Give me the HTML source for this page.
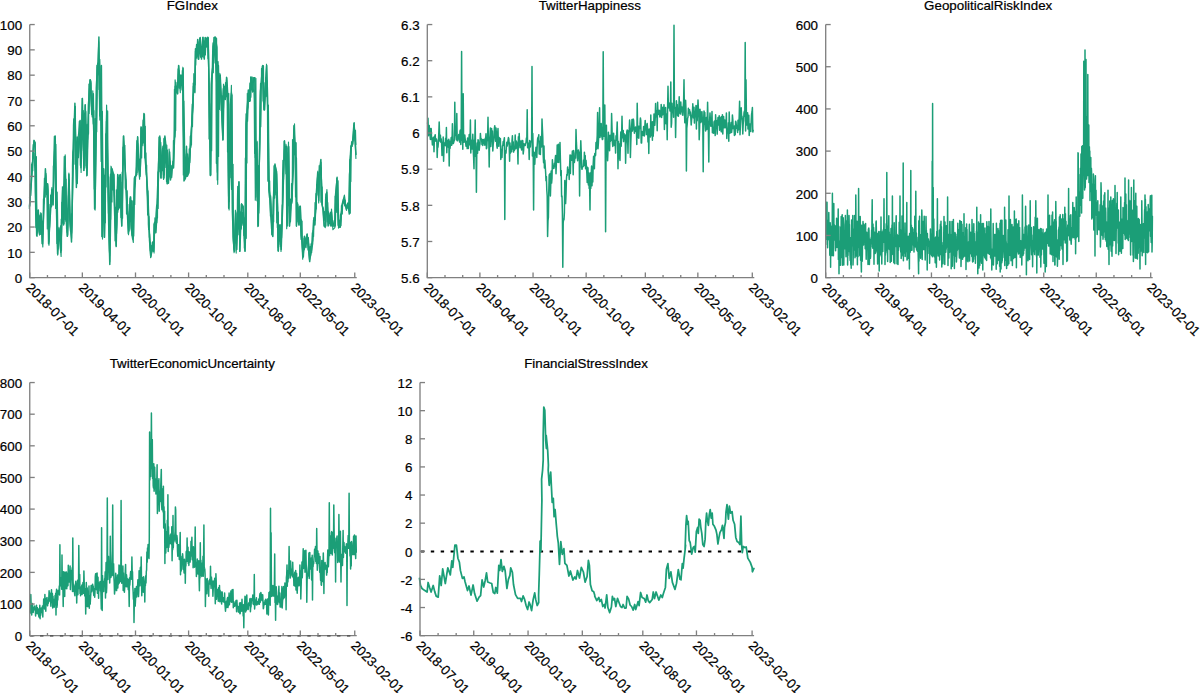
<!DOCTYPE html><html><head><meta charset="utf-8"><title>chart</title>
<style>html,body{margin:0;padding:0;background:#fff;}body{width:1200px;height:693px;overflow:hidden;}svg{display:block;}text{font-family:"Liberation Sans",sans-serif;font-size:13.33px;fill:#000;stroke:#000;stroke-width:0.22px;}</style></head><body>
<svg width="1200" height="693" viewBox="0 0 1200 693">
<rect width="1200" height="693" fill="#fff"/>
<g><polyline points="29.5,206.3 31.8,176.3 34.0,140.7 35.1,142.6 37.0,236.3 38.3,210.0 39.6,234.4 41.1,213.8 42.6,243.8 43.9,206.3 45.4,168.8 46.8,193.2 47.5,183.8 48.6,243.8 50.5,211.9 52.0,189.4 53.0,204.4 55.2,136.0 56.5,211.9 57.6,254.1 59.0,228.8 60.8,252.3 62.7,189.4 63.6,225.0 65.0,156.6 66.5,211.9 67.4,236.3 68.9,174.4 70.2,221.3 71.5,241.9 73.0,161.3 74.9,103.2 76.4,187.5 77.2,136.9 78.3,157.6 80.0,121.0 80.9,167.8 82.4,98.5 83.9,170.6 85.2,105.0 87.1,175.3 88.4,105.0 90.3,79.7 91.8,114.4 93.3,93.8 94.6,209.1 97.0,65.6 97.8,75.0 98.9,37.1 100.0,120.1 101.4,65.6 102.5,237.2 103.6,168.8 104.5,237.2 106.8,110.7 108.7,225.0 109.8,264.4 111.5,168.8 113.4,174.4 114.7,215.7 116.2,246.6 117.7,174.4 119.0,208.2 120.3,174.4 121.8,226.0 123.7,136.0 124.6,153.8 125.6,178.1 128.4,233.5 130.3,196.9 131.2,225.0 132.7,239.1 134.6,178.1 136.8,174.4 137.7,136.9 138.6,161.3 140.1,176.3 141.4,127.6 142.8,142.6 143.9,113.5 145.2,159.4 146.5,174.4 148.0,196.9 149.5,240.1 150.8,256.9 152.7,241.9 153.6,251.3 154.6,222.2 155.9,232.6 157.4,206.3 158.9,165.0 159.8,136.0 160.8,178.1 162.1,155.6 163.0,146.3 164.0,178.1 164.9,136.0 166.4,150.1 167.1,183.8 168.3,182.8 169.6,152.0 170.5,180.0 171.5,166.9 173.3,167.8 174.7,135.1 175.2,86.3 176.5,86.3 177.7,93.8 178.6,65.6 179.9,88.2 180.8,75.0 182.2,90.0 183.1,68.5 183.7,123.8 184.0,181.0 185.5,178.1 186.5,146.3 187.4,176.3 188.9,172.5 190.2,150.0 191.2,135.1 192.7,105.0 193.4,86.3 194.5,91.9 195.5,48.8 196.8,58.1 197.7,39.4 198.7,59.1 200.2,37.5 201.5,59.1 202.8,37.5 204.3,59.1 205.2,37.5 206.5,46.9 208.0,37.5 209.0,78.8 210.3,175.3 211.4,84.4 212.7,67.5 214.1,37.5 215.6,37.5 216.5,47.8 217.4,180.0 218.4,65.6 219.3,105.0 220.2,75.0 221.6,103.2 223.1,139.8 224.0,86.3 225.3,99.4 226.8,77.8 227.7,93.8 228.7,208.2 230.2,105.0 231.5,92.9 232.4,211.9 233.4,240.1 234.3,251.3 235.8,211.9 236.8,249.4 238.9,181.9 239.9,251.3 241.4,204.4 242.7,206.3 243.6,221.3 245.1,251.3 245.9,215.7 246.4,125.7 248.3,90.0 249.6,101.3 251.1,76.9 252.6,91.9 253.6,77.8 254.9,77.8 255.8,196.9 256.8,142.6 258.3,226.0 259.6,142.6 260.5,91.9 261.5,78.8 262.8,65.6 263.7,99.4 264.6,109.7 265.8,84.4 266.7,65.6 267.6,97.5 269.0,189.4 270.3,196.9 271.8,225.0 272.7,236.3 273.6,204.4 275.0,164.1 276.5,174.4 277.4,206.3 278.3,251.3 279.7,225.0 281.2,249.4 282.7,204.4 284.0,161.3 284.5,140.7 285.8,157.6 286.4,146.3 287.2,226.0 288.3,146.3 289.6,226.0 290.5,206.3 292.0,200.7 293.0,168.8 293.9,125.7 294.8,152.0 295.8,142.6 296.5,226.0 297.7,204.4 299.0,225.0 300.3,206.3 301.8,238.2 303.3,256.9 304.6,236.3 305.9,247.6 307.0,234.4 308.4,247.6 309.7,261.6 311.2,247.6 312.7,240.1 314.0,217.5 314.9,225.0 316.4,193.2 317.7,172.5 318.7,200.7 319.6,170.6 320.9,159.4 321.9,204.4 323.4,210.0 324.3,226.0 325.8,226.0 326.7,192.2 328.1,226.0 329.6,215.7 330.9,226.0 331.4,211.9 332.7,226.0 335.2,226.0 335.9,195.0 337.1,177.2 338.2,225.3 340.2,227.3 342.2,205.1 344.3,199.0 346.3,209.1 347.9,203.0 349.3,214.1 350.3,160.6 351.3,146.5 352.7,140.4 354.0,123.2 355.0,136.4 356.0,154.5" fill="none" stroke="#1b9e77" stroke-width="1.5" stroke-linejoin="round" stroke-linecap="round"/>
<polyline points="29.3,208.4 31.2,179.2 34.0,140.1 35.1,143.2 36.5,235.4 37.8,210.4 39.5,235.0 40.8,212.7 42.8,246.9 43.8,205.2 46.0,173.5 46.5,194.6 47.1,185.4 49.0,245.3 50.1,208.8 51.9,187.6 53.0,205.2 54.9,136.3 56.7,210.0 57.7,255.1 58.9,227.4 61.1,256.5 62.4,186.7 64.1,223.7 65.2,154.9 66.0,218.7 67.3,236.4 68.9,173.0 69.7,219.2 71.6,238.2 73.5,159.8 75.0,106.7 76.5,182.9 77.7,138.2 78.3,157.1 80.2,120.2 81.1,172.5 82.2,98.3 83.8,170.4 85.2,104.6 86.7,176.0 88.7,105.6 89.8,79.8 92.2,116.9 92.8,90.8 95.1,210.1 97.4,67.0 97.7,73.5 98.7,41.8 99.6,115.9 101.0,65.9 102.5,239.1 103.7,168.7 104.5,237.5 106.6,105.0 108.9,222.5 109.8,261.7 111.0,166.2 113.8,175.3 115.0,210.7 116.1,245.7 117.8,175.1 118.5,209.7 119.9,175.1 121.6,226.0 123.3,136.0 124.1,153.5 126.0,178.6 128.5,234.6 130.1,198.4 131.0,228.5 133.3,242.5 134.5,177.1 136.3,174.5 137.5,136.5 138.2,165.9 139.6,179.2 141.0,126.6 142.8,145.6 144.5,114.0 145.6,158.7 146.3,172.6 147.6,197.3 149.8,237.0 150.6,257.7 153.3,246.4 154.1,252.9 154.9,217.9 155.6,230.2 156.8,206.0 158.3,164.7 160.1,137.9 161.3,172.6 162.7,157.5 163.6,145.2 163.6,179.5 164.5,137.0 166.9,153.4 167.6,180.2 168.6,183.3 169.1,149.0 170.9,175.4 171.8,165.3 173.7,168.0 174.5,137.2 175.1,79.9 176.4,90.1 177.3,92.5 178.1,68.8 180.3,92.6 180.4,78.3 182.3,83.8 182.9,67.2 183.1,123.4 184.6,179.2 186.1,175.7 186.4,149.6 187.1,172.9 188.6,172.0 190.3,151.8 190.9,133.9 193.2,105.7 193.2,83.1 195.0,92.8 195.4,51.3 196.8,56.7 197.8,42.1 198.3,59.4 199.6,38.0 201.4,57.6 203.1,37.0 204.3,58.3 205.3,37.8 206.6,45.7 207.7,37.0 209.0,83.0 210.4,175.7 211.4,78.9 212.9,64.5 214.3,37.4 215.5,37.0 217.0,47.2 217.7,184.3 218.1,61.5 219.4,109.5 219.8,73.4 221.1,102.3 222.7,140.1 223.5,84.2 225.8,95.6 226.4,77.1 227.3,90.2 229.1,209.9 230.7,104.7 231.4,85.3 232.8,212.5 233.0,237.3 234.1,252.6 235.4,210.2 236.2,253.1 239.0,181.5 239.7,251.5 241.5,203.5 243.3,206.2 244.0,222.5 244.8,251.1 245.3,216.0 246.0,123.7 248.2,94.0 249.3,98.9 250.7,79.7 252.9,90.3 253.1,81.4 254.8,79.2 255.3,200.2 257.1,141.2 257.8,226.6 260.0,141.8 260.5,90.2 262.0,81.5 262.5,67.8 263.4,101.6 264.2,110.2 265.4,85.1 266.5,64.2 267.4,101.5 269.0,190.4 269.7,199.0 271.5,229.1 272.8,236.7 273.3,198.6 274.5,165.0 276.8,171.7 277.8,207.5 278.2,247.5 280.2,224.9 281.0,251.4 282.8,201.0 283.9,160.8 284.1,141.4 285.3,157.5 286.0,144.4 286.7,228.7 288.5,142.1 289.3,226.1 290.5,208.4 291.6,198.8 293.5,169.4 294.5,123.9 295.4,151.4 295.6,142.5 296.4,226.1 297.6,202.7 299.0,225.0 299.7,206.2 301.7,239.3 302.7,259.1 304.3,236.6 306.0,243.5 307.2,233.7 308.6,249.4 309.5,259.9 311.8,249.9 312.8,243.3 313.4,220.2 315.1,220.5 316.7,193.7 317.8,171.2 318.7,203.0 320.0,166.7 321.0,162.3 322.1,202.0 323.0,211.3 324.1,226.2 325.3,227.6 326.9,189.5 328.2,224.8 329.0,213.0 331.2,226.0 331.5,209.0 332.9,229.7 334.9,227.6 335.4,194.6 336.7,181.2 338.5,228.1 340.1,226.8 342.2,203.3 344.4,195.1 346.5,210.3 347.6,203.7 349.6,213.1 349.7,163.7 350.8,146.0 353.0,144.1 354.2,122.5 354.9,139.3 355.9,158.4" fill="none" stroke="#1b9e77" stroke-width="1.15" stroke-linejoin="round" stroke-linecap="round"/>
<polyline points="29.5,197.0 29.8,206.1 30.2,184.0 30.5,195.9 30.8,195.4 31.2,183.2 31.5,164.4 31.8,176.2 32.1,162.9 32.5,170.3 32.8,170.7 33.1,144.7 33.5,158.3 33.8,156.1 34.1,153.1 34.5,162.8 34.8,171.2 35.1,191.6 35.4,201.3 35.8,227.6 36.1,187.2 36.4,156.5 36.8,212.6 37.1,214.2 37.4,228.0 37.8,232.9 38.1,229.1 38.4,220.5 38.7,214.3 39.1,216.3 39.4,231.4 39.7,225.1 40.1,215.6 40.4,222.9 40.7,234.4 41.1,231.7 41.4,220.1 41.7,225.5 42.0,243.7 42.4,221.2 42.7,234.2 43.0,227.9 43.4,198.9 43.7,203.7 44.0,192.4 44.4,178.2 44.7,185.3 45.0,193.2 45.3,197.1 45.7,175.5 46.0,185.9 46.3,191.0 46.7,185.5 47.0,204.1 47.3,228.9 47.7,183.9 48.0,186.2 48.3,190.6 48.6,226.0 49.0,242.0 49.3,228.5 49.6,226.8 50.0,204.4 50.3,211.2 50.6,195.1 51.0,205.6 51.3,204.0 51.6,206.9 51.9,203.2 52.3,196.3 52.6,197.7 52.9,200.9 53.3,166.1 53.6,165.2 53.9,153.7 54.3,136.4 54.6,139.6 54.9,168.7 55.2,139.0 55.6,208.4 55.9,144.2 56.2,191.9 56.6,197.8 56.9,243.4 57.2,192.1 57.6,214.6 57.9,233.8 58.2,249.0 58.5,230.6 58.9,231.6 59.2,239.2 59.5,232.0 59.9,236.2 60.2,238.5 60.5,225.9 60.9,248.0 61.2,219.0 61.5,250.5 61.8,202.2 62.2,211.8 62.5,209.1 62.8,223.1 63.2,199.7 63.5,188.4 63.8,182.3 64.2,156.6 64.5,206.4 64.8,219.5 65.1,194.2 65.5,177.7 65.8,221.2 66.1,179.2 66.5,228.7 66.8,208.0 67.1,232.3 67.5,225.3 67.8,234.9 68.1,224.4 68.4,197.0 68.8,191.1 69.1,179.6 69.4,185.2 69.8,209.7 70.1,226.0 70.4,231.0 70.8,226.3 71.1,224.9 71.4,213.8 71.7,232.9 72.1,224.4 72.4,166.0 72.7,152.1 73.1,149.1 73.4,125.5 73.7,118.8 74.1,129.4 74.4,129.5 74.7,123.9 75.0,164.2 75.4,106.4 75.7,162.3 76.0,169.0 76.4,169.1 76.7,144.7 77.0,141.2 77.4,183.6 77.7,166.9 78.0,148.4 78.3,136.1 78.7,132.0 79.0,126.4 79.3,121.3 79.7,131.1 80.0,136.0 80.3,165.2 80.7,162.7 81.0,157.8 81.3,140.8 81.6,150.6 82.0,142.5 82.3,115.0 82.6,111.4 83.0,139.7 83.3,110.5 83.6,122.5 84.0,142.1 84.3,159.5 84.6,113.0 84.9,168.1 85.3,129.3 85.6,111.1 85.9,111.7 86.3,166.1 86.6,157.0 86.9,126.8 87.3,124.2 87.6,139.5 87.9,134.8 88.2,128.1 88.6,133.9 88.9,84.0 89.2,113.5 89.6,90.9 89.9,83.8 90.2,89.9 90.6,83.4 90.9,80.9 91.2,83.0 91.5,106.5 91.9,99.9 92.2,98.3 92.5,99.0 92.9,117.0 93.2,123.9 93.5,115.4 93.9,110.5 94.2,189.1 94.5,161.9 94.8,207.7 95.2,118.6 95.5,189.8 95.8,167.6 96.2,87.7 96.5,80.5 96.8,131.7 97.2,81.6 97.5,64.2 97.8,63.1 98.1,71.1 98.5,73.0 98.8,64.6 99.1,89.6 99.5,73.1 99.8,59.3 100.1,68.7 100.5,98.7 100.8,138.5 101.1,161.6 101.4,83.0 101.8,236.4 102.1,173.9 102.4,111.3 102.8,157.2 103.1,177.6 103.4,180.0 103.8,174.7 104.1,210.6 104.4,202.2 104.7,175.3 105.1,210.5 105.4,222.8 105.7,133.7 106.1,186.9 106.4,121.2 106.7,121.5 107.1,157.0 107.4,117.2 107.7,111.0 108.0,175.1 108.4,213.3 108.7,176.9 109.0,221.7 109.4,251.3 109.7,255.3 110.0,196.6 110.4,174.4 110.7,219.2 111.0,188.8 111.3,173.3 111.7,176.7 112.0,202.0 112.3,168.8 112.7,170.6 113.0,190.0 113.3,176.0 113.7,181.8 114.0,174.1 114.3,194.9 114.6,208.8 115.0,240.8 115.3,207.3 115.6,215.1 116.0,239.1 116.3,189.8 116.6,233.4 117.0,224.2 117.3,209.3 117.6,179.2 117.9,212.3 118.3,191.0 118.6,177.3 118.9,182.2 119.3,175.3 119.6,207.5 119.9,177.5 120.3,205.1 120.6,182.1 120.9,217.4 121.2,204.5 121.6,219.2 121.9,178.0 122.2,172.1 122.6,218.2 122.9,147.2 123.2,165.0 123.6,148.7 123.9,158.0 124.2,154.9 124.5,152.2 124.9,145.2 125.2,187.5 125.5,189.4 125.9,179.7 126.2,194.2 126.5,214.1 126.9,213.1 127.2,190.7 127.5,207.9 127.8,204.3 128.2,217.2 128.5,222.1 128.8,225.9 129.2,230.9 129.5,210.6 129.8,213.4 130.2,217.5 130.5,221.6 130.8,196.9 131.1,204.4 131.5,200.5 131.8,232.9 132.1,235.4 132.5,225.2 132.8,200.9 133.1,232.2 133.5,205.7 133.8,236.0 134.1,212.3 134.4,177.6 134.8,204.5 135.1,190.0 135.4,184.0 135.8,173.5 136.1,166.9 136.4,154.0 136.8,140.7 137.1,172.4 137.4,155.8 137.7,143.3 138.1,148.9 138.4,164.9 138.7,168.3 139.1,158.9 139.4,169.5 139.7,166.2 140.1,159.3 140.4,168.5 140.7,161.5 141.0,128.0 141.4,144.5 141.7,157.9 142.0,138.6 142.4,142.5 142.7,130.2 143.0,120.2 143.4,139.8 143.7,143.0 144.0,128.0 144.3,136.1 144.7,157.9 145.0,153.7 145.3,126.3 145.7,168.1 146.0,152.7 146.3,174.7 146.7,165.1 147.0,193.6 147.3,200.8 147.6,215.1 148.0,190.9 148.3,224.3 148.6,229.5 149.0,216.5 149.3,237.2 149.6,233.7 150.0,243.2 150.3,250.7 150.6,242.0 150.9,251.8 151.3,254.3 151.6,246.6 151.9,245.5 152.3,247.1 152.6,251.0 152.9,251.0 153.3,244.7 153.6,248.0 153.9,223.8 154.2,224.6 154.6,232.5 154.9,233.4 155.2,228.3 155.6,223.4 155.9,217.0 156.2,210.3 156.6,205.1 156.9,222.7 157.2,217.7 157.5,218.1 157.9,171.8 158.2,208.5 158.5,160.4 158.9,137.0 159.2,167.6 159.5,162.8 159.9,171.6 160.2,161.3 160.5,156.7 160.8,142.3 161.2,150.4 161.5,158.4 161.8,177.9 162.2,155.7 162.5,164.1 162.8,170.6 163.2,159.6 163.5,174.9 163.8,138.5 164.1,175.0 164.5,161.9 164.8,146.2 165.1,151.0 165.5,159.7 165.8,167.5 166.1,150.5 166.5,181.7 166.8,145.0 167.1,160.1 167.4,149.9 167.8,182.8 168.1,174.9 168.4,165.3 168.8,178.1 169.1,174.5 169.4,153.3 169.8,176.7 170.1,161.0 170.4,164.0 170.7,176.6 171.1,171.0 171.4,175.9 171.7,177.8 172.1,173.6 172.4,169.3 172.7,161.1 173.1,164.1 173.4,140.6 173.7,144.2 174.0,141.3 174.4,89.3 174.7,90.3 175.0,137.0 175.4,130.0 175.7,130.7 176.0,87.4 176.4,90.6 176.7,92.1 177.0,82.3 177.3,93.7 177.7,87.3 178.0,87.9 178.3,88.0 178.7,65.6 179.0,69.7 179.3,70.4 179.7,82.9 180.0,84.6 180.3,87.3 180.6,79.5 181.0,77.7 181.3,79.9 181.6,75.1 182.0,83.7 182.3,70.6 182.6,71.8 183.0,123.5 183.3,175.0 183.6,159.0 183.9,101.0 184.3,122.4 184.6,140.0 184.9,170.1 185.3,157.3 185.6,177.8 185.9,158.2 186.3,153.9 186.6,176.5 186.9,169.3 187.2,154.2 187.6,153.8 187.9,158.7 188.2,165.5 188.6,173.8 188.9,163.4 189.2,148.9 189.6,159.8 189.9,162.5 190.2,136.7 190.5,135.7 190.9,147.2 191.2,137.8 191.5,144.9 191.9,115.6 192.2,104.2 192.5,126.7 192.9,104.6 193.2,94.1 193.5,96.0 193.8,73.7 194.2,91.0 194.5,84.8 194.8,77.1 195.2,84.8 195.5,60.5 195.8,65.1 196.2,48.9 196.5,44.4 196.8,56.0 197.1,46.5 197.5,47.2 197.8,40.7 198.1,45.7 198.5,54.0 198.8,46.2 199.1,53.7 199.5,41.0 199.8,52.5 200.1,41.8 200.4,56.0 200.8,57.4 201.1,49.2 201.4,57.2 201.8,46.9 202.1,51.7 202.4,56.3 202.8,54.9 203.1,57.2 203.4,48.1 203.7,53.9 204.1,40.9 204.4,40.9 204.7,41.2 205.1,46.4 205.4,54.9 205.7,48.2 206.1,40.4 206.4,37.9 206.7,40.5 207.0,46.5 207.4,44.1 207.7,45.2 208.0,58.7 208.4,37.9 208.7,58.2 209.0,138.9 209.4,135.2 209.7,121.2 210.0,137.2 210.3,138.0 210.7,129.6 211.0,175.1 211.3,103.9 211.7,150.7 212.0,107.1 212.3,65.4 212.7,46.3 213.0,42.8 213.3,72.8 213.6,57.0 214.0,62.9 214.3,56.4 214.6,44.9 215.0,41.1 215.3,40.6 215.6,63.9 216.0,82.1 216.3,163.3 216.6,38.4 216.9,161.1 217.3,172.3 217.6,73.2 217.9,153.2 218.3,124.9 218.6,156.4 218.9,80.9 219.3,101.8 219.6,93.1 219.9,93.5 220.2,75.3 220.6,86.5 220.9,96.2 221.2,110.4 221.6,96.4 221.9,95.7 222.2,115.3 222.6,135.3 222.9,93.9 223.2,88.5 223.5,108.5 223.9,98.0 224.2,89.0 224.5,86.6 224.9,93.3 225.2,96.5 225.5,82.5 225.9,94.3 226.2,96.7 226.5,84.2 226.8,89.2 227.2,102.4 227.5,151.9 227.8,93.5 228.2,176.1 228.5,196.4 228.8,93.4 229.2,201.6 229.5,186.7 229.8,169.9 230.1,177.8 230.5,109.5 230.8,100.0 231.1,155.6 231.5,189.5 231.8,188.9 232.1,94.9 232.5,210.3 232.8,208.3 233.1,164.3 233.4,218.9 233.8,241.0 234.1,249.2 234.4,249.2 234.8,251.3 235.1,244.6 235.4,240.4 235.8,213.4 236.1,242.8 236.4,233.0 236.7,235.4 237.1,236.2 237.4,200.3 237.7,186.3 238.1,234.8 238.4,224.3 238.7,212.3 239.1,228.9 239.4,222.9 239.7,241.8 240.0,216.8 240.4,211.8 240.7,227.0 241.0,224.1 241.4,228.9 241.7,212.9 242.0,212.5 242.4,212.9 242.7,223.6 243.0,225.3 243.3,210.6 243.7,235.5 244.0,217.7 244.3,247.9 244.7,224.8 245.0,220.6 245.3,158.3 245.7,157.0 246.0,113.8 246.3,238.3 246.6,126.8 247.0,163.0 247.3,93.4 247.6,121.2 248.0,110.2 248.3,107.3 248.6,92.0 249.0,90.3 249.3,97.9 249.6,97.4 249.9,83.0 250.3,100.9 250.6,77.0 250.9,97.2 251.3,84.1 251.6,90.0 251.9,84.3 252.3,77.1 252.6,90.5 252.9,84.3 253.2,87.6 253.6,91.5 253.9,90.1 254.2,99.8 254.6,153.4 254.9,136.9 255.2,157.5 255.6,89.6 255.9,78.4 256.2,139.5 256.5,148.7 256.9,200.8 257.2,173.5 257.5,160.1 257.9,212.2 258.2,225.0 258.5,165.5 258.9,213.1 259.2,203.0 259.5,153.5 259.8,133.5 260.2,96.5 260.5,83.4 260.8,126.7 261.2,107.6 261.5,68.7 261.8,75.1 262.2,66.1 262.5,66.7 262.8,65.8 263.1,101.0 263.5,65.7 263.8,109.7 264.1,109.5 264.5,91.5 264.8,96.0 265.1,82.7 265.5,89.5 265.8,77.6 266.1,96.6 266.4,79.8 266.8,95.0 267.1,80.7 267.4,102.1 267.8,180.3 268.1,181.5 268.4,105.1 268.8,144.5 269.1,192.5 269.4,197.6 269.7,180.9 270.1,205.0 270.4,216.1 270.7,195.8 271.1,203.8 271.4,212.8 271.7,234.8 272.1,226.0 272.4,215.0 272.7,222.0 273.0,216.2 273.4,196.8 273.7,221.7 274.0,165.9 274.4,179.5 274.7,198.1 275.0,184.4 275.4,168.1 275.7,167.6 276.0,195.0 276.3,191.7 276.7,222.8 277.0,201.4 277.3,227.4 277.7,226.3 278.0,250.6 278.3,212.1 278.7,244.6 279.0,225.3 279.3,228.6 279.6,241.0 280.0,228.6 280.3,246.5 280.6,240.2 281.0,226.7 281.3,224.1 281.6,237.8 282.0,205.5 282.3,203.9 282.6,173.2 282.9,160.3 283.3,175.6 283.6,179.2 283.9,162.8 284.3,151.5 284.6,147.8 284.9,159.9 285.3,147.4 285.6,165.1 285.9,173.8 286.2,161.8 286.6,152.3 286.9,159.9 287.2,205.5 287.6,212.9 287.9,147.8 288.2,205.7 288.6,200.7 288.9,146.6 289.2,177.1 289.5,224.1 289.9,199.5 290.2,199.0 290.5,221.8 290.9,214.3 291.2,208.4 291.5,183.6 291.9,203.1 292.2,197.5 292.5,139.6 292.8,155.5 293.2,163.6 293.5,153.8 293.8,155.0 294.2,128.5 294.5,136.4 294.8,148.8 295.2,172.1 295.5,197.0 295.8,143.3 296.1,191.7 296.5,157.8 296.8,179.9 297.1,216.2 297.5,212.5 297.8,221.8 298.1,207.1 298.5,224.0 298.8,217.9 299.1,217.1 299.4,212.5 299.8,222.0 300.1,213.1 300.4,206.4 300.8,236.1 301.1,239.4 301.4,219.8 301.8,234.1 302.1,221.0 302.4,248.2 302.7,256.6 303.1,246.6 303.4,254.4 303.7,249.1 304.1,238.3 304.4,249.7 304.7,237.4 305.1,240.9 305.4,245.8 305.7,239.2 306.0,241.9 306.4,237.0 306.7,236.6 307.0,237.7 307.4,242.9 307.7,236.9 308.0,249.9 308.4,237.6 308.7,242.5 309.0,244.4 309.3,248.3 309.7,251.8 310.0,254.3 310.3,246.6 310.7,256.0 311.0,243.8 311.3,247.7 311.7,252.5 312.0,238.3 312.3,232.8 312.6,236.9 313.0,230.6 313.3,236.0 313.6,236.4 314.0,218.6 314.3,224.0 314.6,224.0 315.0,202.7 315.3,220.2 315.6,207.7 315.9,193.7 316.3,209.0 316.6,184.7 316.9,194.9 317.3,182.0 317.6,176.2 317.9,175.0 318.3,177.8 318.6,174.1 318.9,174.5 319.2,165.5 319.6,169.8 319.9,174.2 320.2,168.9 320.6,167.5 320.9,202.2 321.2,167.8 321.6,184.3 321.9,197.0 322.2,186.9 322.5,208.3 322.9,207.8 323.2,208.0 323.5,220.6 323.9,216.6 324.2,213.1 324.5,211.5 324.9,220.4 325.2,213.8 325.5,199.2 325.8,193.8 326.2,204.8 326.5,199.1 326.8,206.4 327.2,221.7 327.5,216.9 327.8,202.5 328.2,219.1 328.5,211.6 328.8,225.6 329.1,217.7 329.5,223.8 329.8,220.3 330.1,217.1 330.5,212.2 330.8,224.6 331.1,217.9 331.5,218.4 331.8,225.2 332.1,224.4 332.4,223.5 332.8,220.6 333.1,223.5 333.4,224.7 333.8,225.2 334.1,225.8 334.4,220.5 334.8,219.6 335.1,196.0 335.4,197.4 335.7,200.0 336.1,212.4 336.4,207.7 336.7,178.3 337.1,199.8 337.4,212.2 337.7,202.9 338.1,180.7 338.4,204.0 338.7,221.4 339.0,219.7 339.4,224.9 339.7,226.9 340.0,224.4 340.4,214.9 340.7,213.8 341.0,225.7 341.4,205.6 341.7,206.9 342.0,208.2 342.3,214.0 342.7,202.9 343.0,203.6 343.3,199.6 343.7,201.6 344.0,200.8 344.3,203.0 344.7,206.0 345.0,200.2 345.3,200.8 345.6,206.2 346.0,206.0 346.3,207.0 346.6,207.3 347.0,208.1 347.3,204.8 347.6,204.5 348.0,208.2 348.3,204.0 348.6,206.9 348.9,192.5 349.3,174.6 349.6,171.6 349.9,159.5 350.3,213.2 350.6,167.2 350.9,181.6 351.3,145.4 351.6,141.9 351.9,141.5 352.2,146.4 352.6,141.8 352.9,140.7 353.2,139.4 353.6,129.1 353.9,125.6 354.2,136.9 354.6,137.3 354.9,138.8 355.2,140.9 355.5,130.2 355.9,144.4" fill="none" stroke="#1b9e77" stroke-width="1.15" stroke-linejoin="round" stroke-linecap="round"/>
<path d="M29.75,24.55 L29.75,277.65 L356.75,277.65" fill="none" stroke="#808080" stroke-width="1.33"/>
<line x1="29.75" y1="277.65" x2="34.75" y2="277.65" stroke="#808080" stroke-width="1.33"/>
<text x="22.05" y="282.95" text-anchor="end">0</text>
<line x1="29.75" y1="252.34" x2="34.75" y2="252.34" stroke="#808080" stroke-width="1.33"/>
<text x="22.05" y="257.64" text-anchor="end">10</text>
<line x1="29.75" y1="227.03" x2="34.75" y2="227.03" stroke="#808080" stroke-width="1.33"/>
<text x="22.05" y="232.33" text-anchor="end">20</text>
<line x1="29.75" y1="201.72" x2="34.75" y2="201.72" stroke="#808080" stroke-width="1.33"/>
<text x="22.05" y="207.02" text-anchor="end">30</text>
<line x1="29.75" y1="176.41" x2="34.75" y2="176.41" stroke="#808080" stroke-width="1.33"/>
<text x="22.05" y="181.71" text-anchor="end">40</text>
<line x1="29.75" y1="151.10" x2="34.75" y2="151.10" stroke="#808080" stroke-width="1.33"/>
<text x="22.05" y="156.40" text-anchor="end">50</text>
<line x1="29.75" y1="125.79" x2="34.75" y2="125.79" stroke="#808080" stroke-width="1.33"/>
<text x="22.05" y="131.09" text-anchor="end">60</text>
<line x1="29.75" y1="100.48" x2="34.75" y2="100.48" stroke="#808080" stroke-width="1.33"/>
<text x="22.05" y="105.78" text-anchor="end">70</text>
<line x1="29.75" y1="75.17" x2="34.75" y2="75.17" stroke="#808080" stroke-width="1.33"/>
<text x="22.05" y="80.47" text-anchor="end">80</text>
<line x1="29.75" y1="49.86" x2="34.75" y2="49.86" stroke="#808080" stroke-width="1.33"/>
<text x="22.05" y="55.16" text-anchor="end">90</text>
<line x1="29.75" y1="24.55" x2="34.75" y2="24.55" stroke="#808080" stroke-width="1.33"/>
<text x="22.05" y="29.85" text-anchor="end">100</text>
<line x1="29.75" y1="277.65" x2="29.75" y2="272.45" stroke="#808080" stroke-width="1.33"/>
<line x1="47.45" y1="277.65" x2="47.45" y2="275.05" stroke="#808080" stroke-width="1.33"/>
<line x1="65.15" y1="277.65" x2="65.15" y2="275.05" stroke="#808080" stroke-width="1.33"/>
<text transform="translate(25.35,288.55) rotate(45)" x="0" y="0">2018-07-01</text>
<line x1="82.35" y1="277.65" x2="82.35" y2="272.45" stroke="#808080" stroke-width="1.33"/>
<line x1="100.05" y1="277.65" x2="100.05" y2="275.05" stroke="#808080" stroke-width="1.33"/>
<line x1="117.75" y1="277.65" x2="117.75" y2="275.05" stroke="#808080" stroke-width="1.33"/>
<text transform="translate(77.95,288.55) rotate(45)" x="0" y="0">2019-04-01</text>
<line x1="135.50" y1="277.65" x2="135.50" y2="272.45" stroke="#808080" stroke-width="1.33"/>
<line x1="153.20" y1="277.65" x2="153.20" y2="275.05" stroke="#808080" stroke-width="1.33"/>
<line x1="170.90" y1="277.65" x2="170.90" y2="275.05" stroke="#808080" stroke-width="1.33"/>
<text transform="translate(131.10,288.55) rotate(45)" x="0" y="0">2020-01-01</text>
<line x1="188.60" y1="277.65" x2="188.60" y2="272.45" stroke="#808080" stroke-width="1.33"/>
<line x1="206.30" y1="277.65" x2="206.30" y2="275.05" stroke="#808080" stroke-width="1.33"/>
<line x1="224.00" y1="277.65" x2="224.00" y2="275.05" stroke="#808080" stroke-width="1.33"/>
<text transform="translate(184.20,288.55) rotate(45)" x="0" y="0">2020-10-01</text>
<line x1="247.80" y1="277.65" x2="247.80" y2="272.45" stroke="#808080" stroke-width="1.33"/>
<line x1="265.50" y1="277.65" x2="265.50" y2="275.05" stroke="#808080" stroke-width="1.33"/>
<line x1="283.20" y1="277.65" x2="283.20" y2="275.05" stroke="#808080" stroke-width="1.33"/>
<text transform="translate(243.40,288.55) rotate(45)" x="0" y="0">2021-08-01</text>
<line x1="300.30" y1="277.65" x2="300.30" y2="272.45" stroke="#808080" stroke-width="1.33"/>
<line x1="318.00" y1="277.65" x2="318.00" y2="275.05" stroke="#808080" stroke-width="1.33"/>
<line x1="335.70" y1="277.65" x2="335.70" y2="275.05" stroke="#808080" stroke-width="1.33"/>
<text transform="translate(295.90,288.55) rotate(45)" x="0" y="0">2022-05-01</text>
<line x1="354.75" y1="277.65" x2="354.75" y2="272.45" stroke="#808080" stroke-width="1.33"/>
<text transform="translate(350.35,288.55) rotate(45)" x="0" y="0">2023-02-01</text>
<text x="192.25" y="9.65" text-anchor="middle">FGIndex</text></g>
<g><polyline points="427.6,123.7 428.0,118.2 428.4,135.8 428.8,128.6 429.2,125.4 429.6,131.9 430.0,135.5 430.4,139.5 430.8,128.4 431.2,128.7 431.6,139.2 432.0,138.6 432.4,145.0 432.8,142.6 433.2,137.4 433.6,137.2 434.0,151.7 434.4,138.4 434.8,136.2 435.2,134.7 435.6,140.7 436.0,141.2 436.4,138.9 436.8,140.4 437.2,157.6 437.6,144.8 438.0,147.2 438.4,142.5 438.8,133.1 439.2,121.9 439.6,135.2 440.0,141.2 440.4,135.2 440.8,142.3 441.2,138.8 441.6,143.8 442.0,155.4 442.4,142.7 442.8,147.7 443.2,137.1 443.6,161.3 444.0,147.0 444.4,142.9 444.8,145.2 445.2,143.6 445.6,138.2 446.0,145.9 446.4,127.5 446.8,152.8 447.2,140.1 447.6,146.1 448.0,142.2 448.4,147.3 448.8,139.2 449.2,166.0 449.6,141.2 450.0,148.5 450.4,144.9 450.8,142.1 451.2,137.6 451.6,145.3 452.0,143.6 452.4,123.8 452.8,139.0 453.2,143.6 453.6,142.9 454.0,141.1 454.4,140.2 454.8,102.2 455.2,135.2 455.6,132.8 456.0,135.1 456.4,139.7 456.8,113.5 457.2,140.8 457.6,140.7 458.0,138.7 458.4,137.7 458.8,134.4 459.2,137.1 459.6,142.1 460.0,131.1 460.4,130.0 460.8,144.5 461.2,135.7 461.6,51.6 462.0,140.2 462.4,130.7 462.8,149.2 463.2,93.8 463.6,138.6 464.0,142.3 464.4,139.5 464.8,135.0 465.2,139.0 465.6,141.9 466.0,146.3 466.4,144.4 466.8,141.2 467.2,148.6 467.6,138.0 468.0,146.3 468.4,148.4 468.8,141.3 469.2,134.6 469.6,139.1 470.0,145.0 470.4,120.0 470.8,152.9 471.2,140.1 471.6,145.1 472.0,148.9 472.4,144.4 472.8,134.2 473.2,149.3 473.6,157.3 474.0,168.8 474.4,140.1 474.8,142.3 475.2,120.0 475.6,156.5 476.0,147.1 476.4,192.3 476.8,151.9 477.2,142.9 477.6,153.3 478.0,139.7 478.4,140.5 478.8,146.5 479.2,150.2 479.6,145.9 480.0,143.8 480.4,133.4 480.8,138.5 481.2,138.8 481.6,139.0 482.0,144.6 482.4,139.7 482.8,145.5 483.2,141.5 483.6,139.4 484.0,141.4 484.4,143.0 484.8,145.2 485.2,138.2 485.6,139.2 486.0,133.8 486.4,148.8 486.8,147.9 487.2,139.0 487.6,137.5 488.0,117.2 488.4,140.4 488.8,140.5 489.2,166.9 489.6,140.5 490.0,135.4 490.4,128.1 490.8,146.5 491.2,139.7 491.6,128.5 492.0,139.6 492.4,131.0 492.8,151.0 493.2,144.5 493.6,141.4 494.0,137.4 494.4,128.2 494.8,125.7 495.2,130.8 495.6,141.2 496.0,127.9 496.4,133.8 496.8,145.3 497.2,148.2 497.6,134.3 498.0,128.5 498.4,145.8 498.8,146.3 499.2,137.6 499.6,139.6 500.0,140.2 500.4,138.5 500.8,159.4 501.2,152.0 501.6,149.6 502.0,157.5 502.4,145.8 502.8,145.6 503.2,141.5 503.6,145.5 504.0,139.9 504.4,137.7 504.8,219.5 505.2,153.8 505.6,150.4 506.0,153.1 506.4,147.1 506.8,142.3 507.2,146.1 507.6,143.8 508.0,140.3 508.4,137.6 508.8,138.5 509.2,145.4 509.6,161.3 510.0,143.1 510.4,153.1 510.8,146.2 511.2,148.4 511.6,151.8 512.0,141.3 512.4,135.8 512.8,149.1 513.2,141.8 513.6,152.1 514.0,146.8 514.4,150.4 514.8,149.0 515.2,135.1 515.6,148.7 516.0,141.6 516.4,141.1 516.8,142.6 517.2,148.8 517.6,149.4 518.0,164.1 518.4,136.7 518.8,141.7 519.2,133.6 519.6,144.0 520.0,147.7 520.4,140.9 520.8,145.8 521.2,145.7 521.6,149.9 522.0,140.6 522.4,140.5 522.8,140.9 523.2,154.0 523.6,150.4 524.0,143.8 524.4,145.7 524.8,145.1 525.2,145.5 525.6,143.4 526.0,142.8 526.4,138.0 526.8,141.1 527.2,109.7 527.6,147.8 528.0,144.8 528.4,143.2 528.8,144.8 529.2,159.4 529.6,140.5 530.0,145.8 530.4,146.9 530.8,141.2 531.2,141.6 531.6,140.9 532.0,66.6 532.4,156.0 532.8,133.6 533.2,151.2 533.6,210.1 534.0,152.3 534.4,156.7 534.8,164.3 535.2,154.6 535.6,151.8 536.0,147.2 536.4,149.9 536.8,157.5 537.2,145.9 537.6,139.0 538.0,137.3 538.4,137.8 538.8,134.7 539.2,153.9 539.6,146.9 540.0,141.3 540.4,154.5 540.8,136.5 541.2,147.1 541.6,146.7 542.0,119.1 542.4,128.6 542.8,137.2 543.2,155.7 543.6,162.7 544.0,146.1 544.4,168.1 544.8,160.1 545.2,165.5 545.6,171.7 546.0,180.8 546.4,176.6 546.8,190.3 547.2,195.9 547.6,236.4 548.0,220.6 548.4,217.4 548.8,190.6 549.2,174.8 549.6,180.0 550.0,173.6 550.4,196.0 550.8,182.9 551.2,171.0 551.6,183.1 552.0,178.4 552.4,159.8 552.8,167.0 553.2,167.8 553.6,168.5 554.0,168.3 554.4,163.3 554.8,166.4 555.2,159.0 555.6,155.4 556.0,173.8 556.4,163.0 556.8,162.4 557.2,145.1 557.6,155.2 558.0,162.3 558.4,144.3 558.8,162.4 559.2,149.2 559.6,154.5 560.0,142.6 560.4,159.5 560.8,175.7 561.2,170.5 561.6,196.8 562.0,195.9 562.4,213.1 562.8,267.3 563.2,223.0 563.6,218.8 564.0,219.7 564.4,212.6 564.8,180.5 565.2,195.4 565.6,203.6 566.0,194.7 566.4,179.7 566.8,174.5 567.2,175.3 567.6,167.0 568.0,172.4 568.4,171.4 568.8,170.1 569.2,179.5 569.6,166.2 570.0,155.0 570.4,173.6 570.8,155.3 571.2,159.0 571.6,160.2 572.0,157.4 572.4,151.1 572.8,155.7 573.2,174.7 573.6,150.5 574.0,153.0 574.4,162.5 574.8,158.6 575.2,157.9 575.6,158.0 576.0,129.4 576.4,142.4 576.8,149.5 577.2,153.1 577.6,160.7 578.0,154.8 578.4,150.1 578.8,153.2 579.2,152.3 579.6,196.0 580.0,161.5 580.4,154.3 580.8,140.7 581.2,151.3 581.6,167.4 582.0,169.3 582.4,167.2 582.8,166.4 583.2,166.5 583.6,159.9 584.0,165.8 584.4,152.3 584.8,159.3 585.2,155.5 585.6,168.7 586.0,160.3 586.4,166.1 586.8,172.4 587.2,182.5 587.6,167.2 588.0,168.1 588.4,185.0 588.8,172.8 589.2,188.4 589.6,183.4 590.0,210.1 590.4,172.9 590.8,188.4 591.2,173.9 591.6,166.1 592.0,185.7 592.4,170.5 592.8,181.9 593.2,164.3 593.6,156.3 594.0,158.1 594.4,168.7 594.8,153.4 595.2,156.0 595.6,155.2 596.0,142.5 596.4,149.3 596.8,143.0 597.2,135.9 597.6,112.5 598.0,148.8 598.4,142.9 598.8,134.2 599.2,124.6 599.6,107.8 600.0,137.5 600.4,124.2 600.8,135.8 601.2,123.6 601.6,135.3 602.0,137.3 602.4,139.6 602.8,139.1 603.2,51.7 603.6,130.0 604.0,136.2 604.4,135.9 604.8,105.0 605.2,143.0 605.6,231.7 606.0,154.4 606.4,125.3 606.8,145.5 607.2,141.4 607.6,160.7 608.0,150.7 608.4,132.3 608.8,147.5 609.2,140.2 609.6,150.7 610.0,135.3 610.4,141.3 610.8,140.5 611.2,140.2 611.6,113.5 612.0,127.2 612.4,142.4 612.8,146.4 613.2,139.2 613.6,133.3 614.0,142.2 614.4,145.4 614.8,140.6 615.2,142.2 615.6,153.1 616.0,135.8 616.4,140.2 616.8,131.6 617.2,121.9 617.6,140.5 618.0,168.8 618.4,141.4 618.8,158.8 619.2,144.0 619.6,144.1 620.0,160.5 620.4,143.7 620.8,132.0 621.2,146.2 621.6,136.5 622.0,116.3 622.4,133.7 622.8,137.8 623.2,130.4 623.6,141.6 624.0,133.6 624.4,139.6 624.8,137.1 625.2,135.1 625.6,163.2 626.0,145.3 626.4,138.5 626.8,131.6 627.2,130.0 627.6,138.8 628.0,153.3 628.4,133.0 628.8,130.4 629.2,130.6 629.6,120.0 630.0,127.4 630.4,157.6 630.8,143.0 631.2,131.8 631.6,127.6 632.0,119.4 632.4,131.1 632.8,128.6 633.2,119.1 633.6,120.0 634.0,126.3 634.4,133.2 634.8,129.6 635.2,130.9 635.6,127.0 636.0,131.4 636.4,128.8 636.8,144.5 637.2,103.3 637.6,125.9 638.0,137.5 638.4,126.3 638.8,138.3 639.2,127.4 639.6,128.6 640.0,124.9 640.4,117.9 640.8,120.5 641.2,143.0 641.6,142.9 642.0,131.6 642.4,134.4 642.8,131.9 643.2,135.5 643.6,126.5 644.0,127.1 644.4,136.0 644.8,126.7 645.2,120.4 645.6,128.1 646.0,126.2 646.4,134.6 646.8,125.6 647.2,123.5 647.6,128.7 648.0,142.1 648.4,129.8 648.8,153.5 649.2,128.9 649.6,130.3 650.0,134.2 650.4,137.0 650.8,115.0 651.2,135.4 651.6,124.8 652.0,122.0 652.4,140.3 652.8,121.7 653.2,136.3 653.6,128.5 654.0,113.9 654.4,123.8 654.8,125.2 655.2,118.6 655.6,103.5 656.0,116.3 656.4,117.0 656.8,110.4 657.2,130.7 657.6,102.3 658.0,114.0 658.4,114.2 658.8,110.6 659.2,110.2 659.6,115.7 660.0,116.9 660.4,110.8 660.8,113.4 661.2,104.4 661.6,117.5 662.0,108.5 662.4,115.0 662.8,107.2 663.2,109.7 663.6,114.6 664.0,104.7 664.4,129.6 664.8,112.4 665.2,112.0 665.6,107.4 666.0,123.8 666.4,122.2 666.8,114.1 667.2,139.7 667.6,108.3 668.0,86.2 668.4,108.0 668.8,103.3 669.2,103.1 669.6,105.8 670.0,111.0 670.4,106.4 670.8,82.0 671.2,127.3 671.6,123.3 672.0,103.2 672.4,112.6 672.8,110.6 673.2,108.9 673.6,117.3 674.0,25.3 674.4,107.5 674.8,107.2 675.2,109.1 675.6,137.5 676.0,115.4 676.4,100.7 676.8,106.8 677.2,104.4 677.6,115.7 678.0,111.4 678.4,116.2 678.8,109.3 679.2,96.8 679.6,113.0 680.0,111.5 680.4,114.0 680.8,101.9 681.2,111.7 681.6,106.8 682.0,107.2 682.4,114.8 682.8,115.2 683.2,107.0 683.6,101.9 684.0,79.8 684.4,110.4 684.8,122.8 685.2,114.7 685.6,100.3 686.0,110.0 686.4,170.9 686.8,128.2 687.2,124.4 687.6,118.4 688.0,117.0 688.4,108.3 688.8,112.3 689.2,112.9 689.6,109.8 690.0,115.4 690.4,112.1 690.8,117.1 691.2,125.0 691.6,119.8 692.0,117.3 692.4,112.5 692.8,103.7 693.2,113.2 693.6,118.0 694.0,107.2 694.4,123.1 694.8,111.8 695.2,116.7 695.6,111.8 696.0,105.5 696.4,129.1 696.8,106.2 697.2,120.7 697.6,110.3 698.0,100.1 698.4,108.6 698.8,111.2 699.2,139.7 699.6,128.7 700.0,109.2 700.4,115.4 700.8,122.6 701.2,111.9 701.6,121.6 702.0,111.7 702.4,121.6 702.8,120.8 703.2,171.7 703.6,121.1 704.0,111.1 704.4,124.0 704.8,112.5 705.2,125.4 705.6,131.0 706.0,124.9 706.4,117.5 706.8,129.5 707.2,122.7 707.6,102.3 708.0,119.8 708.4,132.1 708.8,162.1 709.2,123.7 709.6,121.0 710.0,112.9 710.4,120.5 710.8,126.3 711.2,125.6 711.6,123.4 712.0,111.6 712.4,132.8 712.8,129.5 713.2,131.4 713.6,133.2 714.0,122.0 714.4,121.1 714.8,126.7 715.2,135.6 715.6,114.7 716.0,123.3 716.4,120.5 716.8,128.3 717.2,134.1 717.6,123.0 718.0,117.5 718.4,125.0 718.8,123.1 719.2,115.8 719.6,130.2 720.0,121.7 720.4,129.0 720.8,117.3 721.2,131.7 721.6,116.7 722.0,131.7 722.4,114.8 722.8,133.9 723.2,123.2 723.6,116.6 724.0,124.2 724.4,127.8 724.8,120.1 725.2,123.1 725.6,127.7 726.0,125.1 726.4,113.0 726.8,138.6 727.2,129.0 727.6,128.3 728.0,132.9 728.4,122.7 728.8,141.2 729.2,111.9 729.6,128.6 730.0,133.3 730.4,132.3 730.8,126.9 731.2,122.6 731.6,132.4 732.0,128.5 732.4,114.9 732.8,119.3 733.2,128.4 733.6,126.0 734.0,126.9 734.4,135.4 734.8,125.8 735.2,134.7 735.6,121.2 736.0,122.0 736.4,126.1 736.8,128.4 737.2,128.4 737.6,132.5 738.0,120.3 738.4,130.0 738.8,125.4 739.2,116.2 739.6,101.2 740.0,134.7 740.4,126.3 740.8,118.4 741.2,107.7 741.6,116.4 742.0,116.2 742.4,120.3 742.8,133.9 743.2,123.7 743.6,120.6 744.0,112.9 744.4,111.1 744.8,116.3 745.2,42.4 745.6,131.1 746.0,79.8 746.4,113.4 746.8,124.9 747.2,119.4 747.6,112.8 748.0,128.9 748.4,120.1 748.8,115.3 749.2,135.4 749.6,127.9 750.0,123.9 750.4,131.2 750.8,131.5 751.2,121.0 751.6,113.9 752.0,112.0 752.4,107.6 752.8,132.1 753.2,130.3" fill="none" stroke="#1b9e77" stroke-width="1.5" stroke-linejoin="round" stroke-linecap="round"/>
<path d="M427.30,24.55 L427.30,277.65 L754.30,277.65" fill="none" stroke="#808080" stroke-width="1.33"/>
<line x1="427.30" y1="277.65" x2="432.30" y2="277.65" stroke="#808080" stroke-width="1.33"/>
<text x="419.60" y="282.95" text-anchor="end">5.6</text>
<line x1="427.30" y1="241.49" x2="432.30" y2="241.49" stroke="#808080" stroke-width="1.33"/>
<text x="419.60" y="246.79" text-anchor="end">5.7</text>
<line x1="427.30" y1="205.34" x2="432.30" y2="205.34" stroke="#808080" stroke-width="1.33"/>
<text x="419.60" y="210.64" text-anchor="end">5.8</text>
<line x1="427.30" y1="169.18" x2="432.30" y2="169.18" stroke="#808080" stroke-width="1.33"/>
<text x="419.60" y="174.48" text-anchor="end">5.9</text>
<line x1="427.30" y1="133.02" x2="432.30" y2="133.02" stroke="#808080" stroke-width="1.33"/>
<text x="419.60" y="138.32" text-anchor="end">6</text>
<line x1="427.30" y1="96.86" x2="432.30" y2="96.86" stroke="#808080" stroke-width="1.33"/>
<text x="419.60" y="102.16" text-anchor="end">6.1</text>
<line x1="427.30" y1="60.71" x2="432.30" y2="60.71" stroke="#808080" stroke-width="1.33"/>
<text x="419.60" y="66.01" text-anchor="end">6.2</text>
<line x1="427.30" y1="24.55" x2="432.30" y2="24.55" stroke="#808080" stroke-width="1.33"/>
<text x="419.60" y="29.85" text-anchor="end">6.3</text>
<line x1="427.30" y1="277.65" x2="427.30" y2="272.45" stroke="#808080" stroke-width="1.33"/>
<line x1="445.00" y1="277.65" x2="445.00" y2="275.05" stroke="#808080" stroke-width="1.33"/>
<line x1="462.70" y1="277.65" x2="462.70" y2="275.05" stroke="#808080" stroke-width="1.33"/>
<text transform="translate(422.90,288.55) rotate(45)" x="0" y="0">2018-07-01</text>
<line x1="479.90" y1="277.65" x2="479.90" y2="272.45" stroke="#808080" stroke-width="1.33"/>
<line x1="497.60" y1="277.65" x2="497.60" y2="275.05" stroke="#808080" stroke-width="1.33"/>
<line x1="515.30" y1="277.65" x2="515.30" y2="275.05" stroke="#808080" stroke-width="1.33"/>
<text transform="translate(475.50,288.55) rotate(45)" x="0" y="0">2019-04-01</text>
<line x1="533.05" y1="277.65" x2="533.05" y2="272.45" stroke="#808080" stroke-width="1.33"/>
<line x1="550.75" y1="277.65" x2="550.75" y2="275.05" stroke="#808080" stroke-width="1.33"/>
<line x1="568.45" y1="277.65" x2="568.45" y2="275.05" stroke="#808080" stroke-width="1.33"/>
<text transform="translate(528.65,288.55) rotate(45)" x="0" y="0">2020-01-01</text>
<line x1="586.15" y1="277.65" x2="586.15" y2="272.45" stroke="#808080" stroke-width="1.33"/>
<line x1="603.85" y1="277.65" x2="603.85" y2="275.05" stroke="#808080" stroke-width="1.33"/>
<line x1="621.55" y1="277.65" x2="621.55" y2="275.05" stroke="#808080" stroke-width="1.33"/>
<text transform="translate(581.75,288.55) rotate(45)" x="0" y="0">2020-10-01</text>
<line x1="645.35" y1="277.65" x2="645.35" y2="272.45" stroke="#808080" stroke-width="1.33"/>
<line x1="663.05" y1="277.65" x2="663.05" y2="275.05" stroke="#808080" stroke-width="1.33"/>
<line x1="680.75" y1="277.65" x2="680.75" y2="275.05" stroke="#808080" stroke-width="1.33"/>
<text transform="translate(640.95,288.55) rotate(45)" x="0" y="0">2021-08-01</text>
<line x1="697.85" y1="277.65" x2="697.85" y2="272.45" stroke="#808080" stroke-width="1.33"/>
<line x1="715.55" y1="277.65" x2="715.55" y2="275.05" stroke="#808080" stroke-width="1.33"/>
<line x1="733.25" y1="277.65" x2="733.25" y2="275.05" stroke="#808080" stroke-width="1.33"/>
<text transform="translate(693.45,288.55) rotate(45)" x="0" y="0">2022-05-01</text>
<line x1="752.30" y1="277.65" x2="752.30" y2="272.45" stroke="#808080" stroke-width="1.33"/>
<text transform="translate(747.90,288.55) rotate(45)" x="0" y="0">2023-02-01</text>
<text x="589.80" y="9.65" text-anchor="middle">TwitterHappiness</text></g>
<g><polyline points="826.0,213.3 826.2,213.8 826.4,239.2 826.6,202.2 826.8,205.3 827.0,202.2 827.2,244.6 827.4,233.6 827.6,247.8 827.8,223.7 828.0,236.1 828.2,227.0 828.4,220.3 828.6,233.1 828.8,212.6 829.0,226.1 829.2,240.0 829.4,232.1 829.6,225.4 829.8,255.3 830.0,232.2 830.2,222.8 830.4,233.6 830.6,267.3 830.8,225.9 831.0,226.5 831.2,255.5 831.4,232.0 831.6,233.9 831.8,240.1 832.0,255.6 832.2,228.6 832.4,193.2 832.6,255.6 832.8,210.3 833.0,226.6 833.2,240.2 833.4,255.7 833.6,218.0 833.8,203.4 834.0,240.3 834.2,224.5 834.4,226.5 834.6,237.9 834.8,235.1 835.0,235.9 835.2,226.0 835.4,248.1 835.6,250.8 835.8,232.9 836.0,225.8 836.2,241.6 836.4,239.0 836.6,218.2 836.8,227.4 837.0,247.5 837.2,233.8 837.4,230.8 837.6,238.8 837.8,236.2 838.0,237.2 838.2,209.0 838.4,259.4 838.6,241.1 838.8,226.2 839.0,273.8 839.2,244.0 839.4,240.9 839.6,253.9 839.8,265.2 840.0,248.6 840.2,261.1 840.4,265.3 840.6,226.9 840.8,234.3 841.0,251.3 841.2,216.6 841.4,238.0 841.6,257.5 841.8,254.5 842.0,248.9 842.2,214.8 842.4,265.3 842.6,248.6 842.8,251.2 843.0,247.9 843.2,217.8 843.4,221.8 843.6,224.9 843.8,265.0 844.0,230.4 844.2,238.6 844.4,238.4 844.6,248.8 844.8,248.0 845.0,245.2 845.2,224.7 845.4,215.5 845.6,243.9 845.8,245.1 846.0,256.7 846.2,240.5 846.4,233.6 846.6,246.9 846.8,220.7 847.0,227.7 847.2,228.2 847.4,210.0 847.6,265.1 847.8,251.1 848.0,255.6 848.2,244.8 848.4,245.3 848.6,235.8 848.8,238.1 849.0,215.5 849.2,225.5 849.4,224.4 849.6,251.9 849.8,249.8 850.0,255.6 850.2,260.5 850.4,237.8 850.6,254.5 850.8,265.0 851.0,241.8 851.2,268.2 851.4,239.7 851.6,219.9 851.8,243.4 852.0,230.7 852.2,243.2 852.4,235.6 852.6,245.7 852.8,215.5 853.0,264.9 853.2,258.1 853.4,237.1 853.6,229.5 853.8,242.0 854.0,249.9 854.2,247.0 854.4,246.7 854.6,215.5 854.8,226.5 855.0,257.8 855.2,244.8 855.4,221.2 855.6,230.1 855.8,195.0 856.0,228.0 856.2,255.9 856.4,238.9 856.6,255.3 856.8,244.2 857.0,221.2 857.2,233.0 857.4,264.8 857.6,231.3 857.8,227.4 858.0,256.7 858.2,243.0 858.4,241.8 858.6,188.5 858.8,217.5 859.0,246.9 859.2,227.3 859.4,222.4 859.6,230.6 859.8,255.7 860.0,240.0 860.2,216.4 860.4,226.5 860.6,260.2 860.8,254.2 861.0,226.7 861.2,264.6 861.4,272.0 861.6,225.3 861.8,240.0 862.0,253.1 862.2,261.2 862.4,254.3 862.6,236.0 862.8,234.1 863.0,221.6 863.2,240.9 863.4,233.6 863.6,244.9 863.8,224.3 864.0,234.7 864.2,229.6 864.4,225.1 864.6,225.4 864.8,227.7 865.0,225.4 865.2,248.7 865.4,243.1 865.6,223.5 865.8,248.0 866.0,245.4 866.2,259.3 866.4,239.2 866.6,239.0 866.8,232.3 867.0,243.4 867.2,247.8 867.4,244.0 867.6,238.4 867.8,248.6 868.0,264.4 868.2,244.9 868.4,228.9 868.6,244.4 868.8,228.0 869.0,230.2 869.2,243.8 869.4,264.4 869.6,253.7 869.8,242.0 870.0,239.4 870.2,253.6 870.4,258.3 870.6,256.4 870.8,239.3 871.0,244.2 871.2,237.3 871.4,237.9 871.6,230.0 871.8,238.5 872.0,215.5 872.2,199.7 872.4,247.0 872.6,229.0 872.8,248.3 873.0,223.9 873.2,236.8 873.4,246.6 873.6,227.5 873.8,232.0 874.0,264.2 874.2,232.4 874.4,232.1 874.6,233.9 874.8,242.3 875.0,241.6 875.2,253.5 875.4,251.2 875.6,236.3 875.8,237.0 876.0,222.2 876.2,221.1 876.4,231.6 876.6,250.5 876.8,243.3 877.0,251.3 877.2,253.0 877.4,239.6 877.6,264.1 877.8,234.6 878.0,233.2 878.2,235.9 878.4,255.2 878.6,240.0 878.8,231.6 879.0,247.0 879.2,271.0 879.4,240.4 879.6,238.4 879.8,254.6 880.0,253.4 880.2,253.0 880.4,231.3 880.6,245.3 880.8,246.2 881.0,216.9 881.2,256.0 881.4,243.1 881.6,237.2 881.8,264.0 882.0,243.7 882.2,231.9 882.4,241.1 882.6,248.5 882.8,251.4 883.0,241.2 883.2,230.0 883.4,232.3 883.6,230.6 883.8,227.4 884.0,198.8 884.2,235.2 884.4,242.6 884.6,230.5 884.8,230.0 885.0,264.4 885.2,237.2 885.4,255.3 885.6,229.5 885.8,244.4 886.0,241.5 886.2,223.8 886.4,250.5 886.6,244.0 886.8,172.5 887.0,249.0 887.2,252.9 887.4,231.0 887.6,261.6 887.8,243.9 888.0,226.0 888.2,248.6 888.4,237.1 888.6,223.5 888.8,215.7 889.0,244.9 889.2,231.9 889.4,249.5 889.6,246.6 889.8,234.9 890.0,234.7 890.2,262.4 890.4,261.7 890.6,250.7 890.8,237.2 891.0,228.5 891.2,236.8 891.4,261.2 891.6,247.4 891.8,238.1 892.0,225.1 892.2,244.1 892.4,196.0 892.6,242.3 892.8,250.6 893.0,254.4 893.2,243.8 893.4,237.4 893.6,244.8 893.8,262.7 894.0,246.5 894.2,222.8 894.4,259.8 894.6,245.1 894.8,263.8 895.0,235.7 895.2,240.9 895.4,238.1 895.6,246.5 895.8,234.2 896.0,221.7 896.2,215.8 896.4,240.5 896.6,235.1 896.8,234.2 897.0,263.8 897.2,251.2 897.4,254.6 897.6,235.3 897.8,245.7 898.0,264.4 898.2,239.4 898.4,250.7 898.6,249.1 898.8,245.7 899.0,244.0 899.2,222.3 899.4,232.1 899.6,246.6 899.8,237.2 900.0,196.0 900.2,246.3 900.4,229.5 900.6,233.0 900.8,252.2 901.0,237.3 901.2,258.4 901.4,248.2 901.6,251.4 901.8,255.0 902.0,215.9 902.2,241.2 902.4,224.5 902.6,235.9 902.8,240.9 903.0,256.3 903.2,163.1 903.4,260.7 903.6,235.1 903.8,241.6 904.0,243.4 904.2,252.9 904.4,241.7 904.6,233.8 904.8,237.8 905.0,223.0 905.2,256.4 905.4,250.7 905.6,247.2 905.8,245.5 906.0,234.0 906.2,236.8 906.4,251.4 906.6,231.5 906.8,202.5 907.0,259.9 907.2,259.7 907.4,245.7 907.6,248.3 907.8,244.5 908.0,258.2 908.2,236.3 908.4,243.4 908.6,247.8 908.8,258.4 909.0,239.0 909.2,245.0 909.4,269.1 909.6,233.4 909.8,233.5 910.0,243.4 910.2,252.2 910.4,232.9 910.6,234.2 910.8,170.6 911.0,246.4 911.2,250.2 911.4,225.3 911.6,246.4 911.8,228.8 912.0,250.3 912.2,229.3 912.4,227.7 912.6,232.7 912.8,241.7 913.0,228.9 913.2,244.8 913.4,244.2 913.6,243.5 913.8,245.5 914.0,252.1 914.2,232.5 914.4,242.6 914.6,242.2 914.8,216.2 915.0,246.8 915.2,232.0 915.4,232.7 915.6,236.5 915.8,191.3 916.0,246.2 916.2,247.8 916.4,233.1 916.6,250.1 916.8,247.1 917.0,237.3 917.2,242.3 917.4,251.3 917.6,247.3 917.8,250.1 918.0,243.8 918.2,254.9 918.4,263.4 918.6,273.8 918.8,220.8 919.0,261.2 919.2,234.9 919.4,223.8 919.6,216.3 919.8,247.2 920.0,254.4 920.2,253.4 920.4,237.4 920.6,258.2 920.8,241.6 921.0,234.6 921.2,243.4 921.4,245.0 921.6,243.2 921.8,210.0 922.0,216.3 922.2,259.5 922.4,234.9 922.6,249.7 922.8,231.8 923.0,244.4 923.2,240.3 923.4,221.2 923.6,246.8 923.8,249.5 924.0,227.5 924.2,216.3 924.4,233.9 924.6,231.3 924.8,243.9 925.0,242.5 925.2,259.9 925.4,249.6 925.6,239.3 925.8,244.5 926.0,216.4 926.2,230.4 926.4,230.2 926.6,241.3 926.8,246.2 927.0,245.0 927.2,270.1 927.4,233.4 927.6,246.0 927.8,241.0 928.0,242.9 928.2,246.2 928.4,239.0 928.6,245.1 928.8,242.3 929.0,253.6 929.2,241.3 929.4,246.0 929.6,263.2 929.8,249.4 930.0,248.2 930.2,254.2 930.4,229.1 930.6,250.3 930.8,250.8 931.0,247.5 931.2,253.1 931.4,251.1 931.6,255.4 931.8,234.1 932.0,247.7 932.2,161.3 932.4,256.7 932.6,103.5 932.8,226.4 933.0,245.5 933.2,187.5 933.4,255.3 933.6,240.5 933.8,219.0 934.0,240.4 934.2,256.7 934.4,249.6 934.6,237.8 934.8,253.5 935.0,253.0 935.2,262.7 935.4,257.0 935.6,251.4 935.8,236.9 936.0,250.6 936.2,250.8 936.4,267.3 936.6,252.0 936.8,231.5 937.0,253.6 937.2,247.7 937.4,198.8 937.6,246.3 937.8,243.5 938.0,250.3 938.2,255.9 938.4,243.3 938.6,251.1 938.8,237.2 939.0,252.1 939.2,247.8 939.4,230.3 939.6,260.0 939.8,235.6 940.0,248.5 940.2,229.8 940.4,224.2 940.6,254.6 940.8,228.7 941.0,221.3 941.2,244.8 941.4,226.7 941.6,244.9 941.8,267.1 942.0,242.4 942.2,251.5 942.4,253.7 942.6,250.3 942.8,246.1 943.0,263.7 943.2,246.6 943.4,251.5 943.6,248.9 943.8,230.4 944.0,216.6 944.2,248.3 944.4,254.6 944.6,255.1 944.8,264.4 945.0,222.1 945.2,240.2 945.4,241.4 945.6,236.1 945.8,252.2 946.0,246.7 946.2,249.3 946.4,225.7 946.6,234.8 946.8,246.9 947.0,241.7 947.2,239.6 947.4,246.2 947.6,196.9 947.8,233.4 948.0,265.5 948.2,238.7 948.4,254.7 948.6,254.2 948.8,258.1 949.0,240.1 949.2,234.3 949.4,252.5 949.6,250.6 949.8,221.4 950.0,221.4 950.2,240.5 950.4,242.6 950.6,244.2 950.8,252.3 951.0,234.8 951.2,268.8 951.4,257.5 951.6,261.7 951.8,250.8 952.0,221.5 952.2,250.4 952.4,266.3 952.6,252.6 952.8,246.3 953.0,255.0 953.2,236.1 953.4,219.4 953.6,248.0 953.8,237.8 954.0,241.8 954.2,254.5 954.4,268.6 954.6,245.0 954.8,256.8 955.0,232.6 955.2,241.8 955.4,251.5 955.6,254.1 955.8,234.2 956.0,254.4 956.2,249.5 956.4,262.0 956.6,258.0 956.8,253.8 957.0,242.6 957.2,250.8 957.4,236.4 957.6,236.9 957.8,223.2 958.0,230.5 958.2,230.9 958.4,246.6 958.6,249.1 958.8,229.9 959.0,246.7 959.2,252.3 959.4,257.9 959.6,246.7 959.8,220.4 960.0,242.9 960.2,258.0 960.4,227.0 960.6,250.6 960.8,221.6 961.0,266.4 961.2,258.0 961.4,221.7 961.6,240.9 961.8,229.0 962.0,224.3 962.2,242.5 962.4,236.2 962.6,259.2 962.8,241.0 963.0,233.1 963.2,246.9 963.4,252.4 963.6,256.9 963.8,253.5 964.0,213.8 964.2,237.0 964.4,245.5 964.6,236.7 964.8,256.1 965.0,243.4 965.2,247.0 965.4,243.0 965.6,248.5 965.8,227.8 966.0,269.4 966.2,240.4 966.4,238.2 966.6,224.1 966.8,246.8 967.0,229.5 967.2,251.6 967.4,261.0 967.6,254.6 967.8,242.1 968.0,261.8 968.2,245.5 968.4,247.4 968.6,248.7 968.8,241.6 969.0,252.6 969.2,231.5 969.4,224.2 969.6,261.1 969.8,238.2 970.0,243.3 970.2,251.7 970.4,241.7 970.6,232.2 970.8,245.4 971.0,235.4 971.2,254.0 971.4,242.1 971.6,244.6 971.8,256.5 972.0,219.4 972.2,228.1 972.4,256.0 972.6,261.9 972.8,249.1 973.0,238.6 973.2,261.5 973.4,253.8 973.6,259.3 973.8,223.8 974.0,246.4 974.2,234.3 974.4,233.4 974.6,254.5 974.8,256.1 975.0,241.8 975.2,244.8 975.4,263.2 975.6,255.3 975.8,246.5 976.0,253.7 976.2,249.4 976.4,231.2 976.6,241.2 976.8,207.2 977.0,255.0 977.2,232.1 977.4,237.4 977.6,240.3 977.8,273.8 978.0,260.3 978.2,253.2 978.4,262.6 978.6,222.0 978.8,237.3 979.0,268.1 979.2,229.3 979.4,223.7 979.6,250.7 979.8,265.5 980.0,255.3 980.2,235.4 980.4,254.3 980.6,214.7 980.8,251.2 981.0,252.5 981.2,257.4 981.4,261.1 981.6,263.3 981.8,260.0 982.0,246.3 982.2,223.4 982.4,254.3 982.6,228.1 982.8,270.1 983.0,232.8 983.2,223.5 983.4,223.5 983.6,252.6 983.8,251.6 984.0,255.5 984.2,251.5 984.4,237.8 984.6,257.3 984.8,238.9 985.0,228.1 985.2,258.3 985.4,254.1 985.6,235.6 985.8,244.8 986.0,259.5 986.2,258.5 986.4,233.7 986.6,260.4 986.8,221.8 987.0,249.0 987.2,252.3 987.4,246.4 987.6,249.3 987.8,226.4 988.0,246.2 988.2,253.5 988.4,235.4 988.6,249.5 988.8,245.6 989.0,221.6 989.2,239.7 989.4,254.3 989.6,226.9 989.8,248.1 990.0,251.5 990.2,230.6 990.4,244.4 990.6,257.7 990.8,209.1 991.0,234.4 991.2,259.0 991.4,251.5 991.6,249.0 991.8,270.1 992.0,255.8 992.2,251.7 992.4,258.3 992.6,255.0 992.8,261.7 993.0,246.0 993.2,223.6 993.4,264.9 993.6,256.5 993.8,253.3 994.0,248.0 994.2,246.2 994.4,248.6 994.6,234.6 994.8,256.0 995.0,248.3 995.2,234.5 995.4,250.3 995.6,242.9 995.8,246.9 996.0,253.4 996.2,269.3 996.4,223.2 996.6,251.8 996.8,255.2 997.0,251.9 997.2,263.8 997.4,241.4 997.6,242.7 997.8,246.9 998.0,228.6 998.2,259.4 998.4,230.3 998.6,253.2 998.8,260.5 999.0,235.7 999.2,244.6 999.4,244.2 999.6,266.3 999.8,249.9 1000.0,223.2 1000.2,272.0 1000.4,258.5 1000.6,220.5 1000.8,220.4 1001.0,268.9 1001.2,247.8 1001.4,220.4 1001.6,258.7 1001.8,262.7 1002.0,220.3 1002.2,261.1 1002.4,254.7 1002.6,246.3 1002.8,237.1 1003.0,250.9 1003.2,235.6 1003.4,248.4 1003.6,243.1 1003.8,240.5 1004.0,252.7 1004.2,257.6 1004.4,256.5 1004.6,207.2 1004.8,265.5 1005.0,229.4 1005.2,247.2 1005.4,248.5 1005.6,260.2 1005.8,220.0 1006.0,240.3 1006.2,242.0 1006.4,248.5 1006.6,268.5 1006.8,248.9 1007.0,244.9 1007.2,251.1 1007.4,257.4 1007.6,243.8 1007.8,265.3 1008.0,229.7 1008.2,260.4 1008.4,254.2 1008.6,257.5 1008.8,263.8 1009.0,196.0 1009.2,250.8 1009.4,249.0 1009.6,237.8 1009.8,235.6 1010.0,235.4 1010.2,255.6 1010.4,219.5 1010.6,228.5 1010.8,246.7 1011.0,260.8 1011.2,244.5 1011.4,260.3 1011.6,245.0 1011.8,238.5 1012.0,224.6 1012.2,247.9 1012.4,265.6 1012.6,246.7 1012.8,231.6 1013.0,252.4 1013.2,227.1 1013.4,230.2 1013.6,258.4 1013.8,250.3 1014.0,256.7 1014.2,248.3 1014.4,211.0 1014.6,247.5 1014.8,241.1 1015.0,257.6 1015.2,228.0 1015.4,219.8 1015.6,233.9 1015.8,255.8 1016.0,238.0 1016.2,219.0 1016.4,267.8 1016.6,232.7 1016.8,242.7 1017.0,252.0 1017.2,249.5 1017.4,243.0 1017.6,224.1 1017.8,251.3 1018.0,231.9 1018.2,242.8 1018.4,253.9 1018.6,239.9 1018.8,220.8 1019.0,236.9 1019.2,252.1 1019.4,253.3 1019.6,227.5 1019.8,245.6 1020.0,248.4 1020.2,257.4 1020.4,249.6 1020.6,246.8 1020.8,240.8 1021.0,250.4 1021.2,253.9 1021.4,242.7 1021.6,241.0 1021.8,265.0 1022.0,244.3 1022.2,234.2 1022.4,195.0 1022.6,228.0 1022.8,230.1 1023.0,255.4 1023.2,245.0 1023.4,253.9 1023.6,253.7 1023.8,234.4 1024.0,250.5 1024.2,239.5 1024.4,247.1 1024.6,247.5 1024.8,243.5 1025.0,227.1 1025.2,248.0 1025.4,244.7 1025.6,206.3 1025.8,230.3 1026.0,246.8 1026.2,241.6 1026.4,274.8 1026.6,240.8 1026.8,241.0 1027.0,225.9 1027.2,237.0 1027.4,238.1 1027.6,249.7 1027.8,242.2 1028.0,260.7 1028.2,251.3 1028.4,247.9 1028.6,246.6 1028.8,225.1 1029.0,248.4 1029.2,258.8 1029.4,230.5 1029.6,259.5 1029.8,251.3 1030.0,247.4 1030.2,200.7 1030.4,244.3 1030.6,233.5 1030.8,243.8 1031.0,244.6 1031.2,244.7 1031.4,227.5 1031.6,254.7 1031.8,235.1 1032.0,248.5 1032.2,250.7 1032.4,241.1 1032.6,266.8 1032.8,245.2 1033.0,248.7 1033.2,240.5 1033.4,247.7 1033.6,226.8 1033.8,251.3 1034.0,238.8 1034.2,236.9 1034.4,252.7 1034.6,254.4 1034.8,238.1 1035.0,230.0 1035.2,217.3 1035.4,230.4 1035.6,249.6 1035.8,200.7 1036.0,226.8 1036.2,244.4 1036.4,256.1 1036.6,233.6 1036.8,272.9 1037.0,231.6 1037.2,248.7 1037.4,218.3 1037.6,242.0 1037.8,249.3 1038.0,243.1 1038.2,255.1 1038.4,251.1 1038.6,236.9 1038.8,230.3 1039.0,229.5 1039.2,249.5 1039.4,241.8 1039.6,245.0 1039.8,231.3 1040.0,257.2 1040.2,253.9 1040.4,252.5 1040.6,228.4 1040.8,266.9 1041.0,253.4 1041.2,228.8 1041.4,254.9 1041.6,241.6 1041.8,232.8 1042.0,233.0 1042.2,249.2 1042.4,246.9 1042.6,245.8 1042.8,240.3 1043.0,229.3 1043.2,246.1 1043.4,239.5 1043.6,240.3 1043.8,250.3 1044.0,263.2 1044.2,234.5 1044.4,254.5 1044.6,233.0 1044.8,253.0 1045.0,250.6 1045.2,272.0 1045.4,245.7 1045.6,232.3 1045.8,238.2 1046.0,254.2 1046.2,251.9 1046.4,266.4 1046.6,229.0 1046.8,236.3 1047.0,243.8 1047.2,243.3 1047.4,235.7 1047.6,236.9 1047.8,241.1 1048.0,195.0 1048.2,241.0 1048.4,232.2 1048.6,246.1 1048.8,215.5 1049.0,230.6 1049.2,233.7 1049.4,246.0 1049.6,215.3 1049.8,239.3 1050.0,227.7 1050.2,254.0 1050.4,251.7 1050.6,236.1 1050.8,247.7 1051.0,226.2 1051.2,244.6 1051.4,245.1 1051.6,254.8 1051.8,236.1 1052.0,214.9 1052.2,251.5 1052.4,227.0 1052.6,211.9 1052.8,236.7 1053.0,261.5 1053.2,240.8 1053.4,255.4 1053.6,242.2 1053.8,222.2 1054.0,246.8 1054.2,247.4 1054.4,233.4 1054.6,219.7 1054.8,265.0 1055.0,265.0 1055.2,245.8 1055.4,246.3 1055.6,252.1 1055.8,201.6 1056.0,220.3 1056.2,221.6 1056.4,250.4 1056.6,256.9 1056.8,253.3 1057.0,250.3 1057.2,240.0 1057.4,266.3 1057.6,258.9 1057.8,246.4 1058.0,255.2 1058.2,254.6 1058.4,230.0 1058.6,254.1 1058.8,229.2 1059.0,227.0 1059.2,259.3 1059.4,216.9 1059.6,236.8 1059.8,250.4 1060.0,244.0 1060.2,214.7 1060.4,226.3 1060.6,245.3 1060.8,245.5 1061.0,237.8 1061.2,225.5 1061.4,219.1 1061.6,238.6 1061.8,237.9 1062.0,248.8 1062.2,234.2 1062.4,249.6 1062.6,221.8 1062.8,214.6 1063.0,264.4 1063.2,232.3 1063.4,226.5 1063.6,236.0 1063.8,221.2 1064.0,233.1 1064.2,218.8 1064.4,239.8 1064.6,229.6 1064.8,207.2 1065.0,237.4 1065.2,242.9 1065.4,213.7 1065.6,239.1 1065.8,233.5 1066.0,221.2 1066.2,233.4 1066.4,243.1 1066.6,242.6 1066.8,261.4 1067.0,232.1 1067.2,238.3 1067.4,260.4 1067.6,228.2 1067.8,224.9 1068.0,229.9 1068.2,228.0 1068.4,235.7 1068.6,188.5 1068.8,225.5 1069.0,220.2 1069.2,235.0 1069.4,218.9 1069.6,224.4 1069.8,239.9 1070.0,234.1 1070.2,221.7 1070.4,215.6 1070.6,221.5 1070.8,214.7 1071.0,241.7 1071.2,244.2 1071.4,238.6 1071.6,238.7 1071.8,227.9 1072.0,236.7 1072.2,235.3 1072.4,235.0 1072.6,227.3 1072.8,202.5 1073.0,236.9 1073.2,237.6 1073.4,217.1 1073.6,228.9 1073.8,231.2 1074.0,237.5 1074.2,207.5 1074.4,211.1 1074.6,211.1 1074.8,212.6 1075.0,214.4 1075.2,239.6 1075.4,212.1 1075.6,253.7 1075.8,231.1 1076.0,236.2 1076.2,196.9 1076.4,237.7 1076.6,231.0 1076.8,236.3 1077.0,233.0 1077.2,232.6 1077.4,228.2 1077.6,236.4 1077.8,220.6 1078.0,152.8 1078.2,153.2 1078.4,208.4 1078.6,220.5 1078.8,241.6 1079.0,201.5 1079.2,206.3 1079.4,197.9 1079.6,192.0 1079.8,216.3 1080.0,174.4 1080.2,204.5 1080.4,168.2 1080.6,205.2 1080.8,181.1 1081.0,154.1 1081.2,175.5 1081.4,154.3 1081.6,213.0 1081.8,146.4 1082.0,185.4 1082.2,154.7 1082.4,158.1 1082.6,145.7 1082.8,198.3 1083.0,146.5 1083.2,156.5 1083.4,175.1 1083.6,160.3 1083.8,61.3 1084.0,150.2 1084.2,128.7 1084.4,175.9 1084.6,190.1 1084.8,176.3 1085.0,50.0 1085.2,187.8 1085.4,179.7 1085.6,154.6 1085.8,171.7 1086.0,59.4 1086.2,164.3 1086.4,174.0 1086.6,178.9 1086.8,164.5 1087.0,165.1 1087.2,116.7 1087.4,146.3 1087.6,175.4 1087.8,74.4 1088.0,175.5 1088.2,164.7 1088.4,171.6 1088.6,173.0 1088.8,125.1 1089.0,182.5 1089.2,175.0 1089.4,146.7 1089.6,182.8 1089.8,151.1 1090.0,200.6 1090.2,162.1 1090.4,164.8 1090.6,177.0 1090.8,157.5 1091.0,191.5 1091.2,189.3 1091.4,168.2 1091.6,172.5 1091.8,219.1 1092.0,207.9 1092.2,198.1 1092.4,194.8 1092.6,217.4 1092.8,184.0 1093.0,188.3 1093.2,192.7 1093.4,174.1 1093.6,179.6 1093.8,230.1 1094.0,204.0 1094.2,184.8 1094.4,199.6 1094.6,196.3 1094.8,198.9 1095.0,256.0 1095.2,180.9 1095.4,175.8 1095.6,206.4 1095.8,206.4 1096.0,190.2 1096.2,209.9 1096.4,202.2 1096.6,215.6 1096.8,209.7 1097.0,229.7 1097.2,234.4 1097.4,224.4 1097.6,215.8 1097.8,200.7 1098.0,227.0 1098.2,223.8 1098.4,228.7 1098.6,211.8 1098.8,229.8 1099.0,226.8 1099.2,225.6 1099.4,217.6 1099.6,214.1 1099.8,229.7 1100.0,213.7 1100.2,204.7 1100.4,247.0 1100.6,240.4 1100.8,210.9 1101.0,182.8 1101.2,190.0 1101.4,232.5 1101.6,233.9 1101.8,227.8 1102.0,221.1 1102.2,235.6 1102.4,232.1 1102.6,206.0 1102.8,212.8 1103.0,239.3 1103.2,235.8 1103.4,206.4 1103.6,200.9 1103.8,231.8 1104.0,212.1 1104.2,195.0 1104.4,217.3 1104.6,229.3 1104.8,192.7 1105.0,237.5 1105.2,220.4 1105.4,239.6 1105.6,207.9 1105.8,212.4 1106.0,233.9 1106.2,241.2 1106.4,226.3 1106.6,221.9 1106.8,246.6 1107.0,243.1 1107.2,232.0 1107.4,223.8 1107.6,245.9 1107.8,238.0 1108.0,190.3 1108.2,249.3 1108.4,244.0 1108.6,231.3 1108.8,234.8 1109.0,264.4 1109.2,220.4 1109.4,208.1 1109.6,245.0 1109.8,201.0 1110.0,202.8 1110.2,204.5 1110.4,234.9 1110.6,242.7 1110.8,196.9 1111.0,246.4 1111.2,251.2 1111.4,247.3 1111.6,206.3 1111.8,246.3 1112.0,256.2 1112.2,212.5 1112.4,200.6 1112.6,245.9 1112.8,234.9 1113.0,226.7 1113.2,226.4 1113.4,198.8 1113.6,213.2 1113.8,229.9 1114.0,233.9 1114.2,240.4 1114.4,240.5 1114.6,219.2 1114.8,225.7 1115.0,185.6 1115.2,204.3 1115.4,234.4 1115.6,212.7 1115.8,229.8 1116.0,253.5 1116.2,232.4 1116.4,219.2 1116.6,215.2 1116.8,203.2 1117.0,226.2 1117.2,192.4 1117.4,225.2 1117.6,228.2 1117.8,211.2 1118.0,213.1 1118.2,243.3 1118.4,210.0 1118.6,254.7 1118.8,242.4 1119.0,230.2 1119.2,222.0 1119.4,243.3 1119.6,235.2 1119.8,227.8 1120.0,251.3 1120.2,222.5 1120.4,227.5 1120.6,240.8 1120.8,196.9 1121.0,225.8 1121.2,239.7 1121.4,253.3 1121.6,218.9 1121.8,234.4 1122.0,230.4 1122.2,226.5 1122.4,248.4 1122.6,222.6 1122.8,248.6 1123.0,207.4 1123.2,225.5 1123.4,210.0 1123.6,228.8 1123.8,233.3 1124.0,231.3 1124.2,226.4 1124.4,218.7 1124.6,202.6 1124.8,235.2 1125.0,178.1 1125.2,239.5 1125.4,194.5 1125.6,218.3 1125.8,193.9 1126.0,238.2 1126.2,209.9 1126.4,204.7 1126.6,234.7 1126.8,220.3 1127.0,225.6 1127.2,220.7 1127.4,239.0 1127.6,227.0 1127.8,227.1 1128.0,223.3 1128.2,238.0 1128.4,240.6 1128.6,180.0 1128.8,237.4 1129.0,200.1 1129.2,212.1 1129.4,216.8 1129.6,213.6 1129.8,234.1 1130.0,203.4 1130.2,200.9 1130.4,229.9 1130.6,255.1 1130.8,228.5 1131.0,229.2 1131.2,217.1 1131.4,187.5 1131.6,241.4 1131.8,229.2 1132.0,230.5 1132.2,239.6 1132.4,217.9 1132.6,210.3 1132.8,225.0 1133.0,255.2 1133.2,240.7 1133.4,261.4 1133.6,247.3 1133.8,180.0 1134.0,225.2 1134.2,206.5 1134.4,200.4 1134.6,236.9 1134.8,216.5 1135.0,216.0 1135.2,257.9 1135.4,240.8 1135.6,215.3 1135.8,193.2 1136.0,258.3 1136.2,252.1 1136.4,227.1 1136.6,253.0 1136.8,206.3 1137.0,235.1 1137.2,232.9 1137.4,259.1 1137.6,220.9 1137.8,225.8 1138.0,236.4 1138.2,253.2 1138.4,218.4 1138.6,245.1 1138.8,235.3 1139.0,233.4 1139.2,219.5 1139.4,246.8 1139.6,242.4 1139.8,246.5 1140.0,269.1 1140.2,237.7 1140.4,224.5 1140.6,238.9 1140.8,250.5 1141.0,240.6 1141.2,246.2 1141.4,251.0 1141.6,242.8 1141.8,200.7 1142.0,221.1 1142.2,255.8 1142.4,234.0 1142.6,233.7 1142.8,237.7 1143.0,248.2 1143.2,248.7 1143.4,223.8 1143.6,234.1 1143.8,252.4 1144.0,224.7 1144.2,235.1 1144.4,220.2 1144.6,209.7 1144.8,212.2 1145.0,195.0 1145.2,238.0 1145.4,199.2 1145.6,264.4 1145.8,229.0 1146.0,206.7 1146.2,231.3 1146.4,219.2 1146.6,252.3 1146.8,215.5 1147.0,247.4 1147.2,212.0 1147.4,214.3 1147.6,252.8 1147.8,218.8 1148.0,224.1 1148.2,204.6 1148.4,210.0 1148.6,251.7 1148.8,225.9 1149.0,226.0 1149.2,230.4 1149.4,217.6 1149.6,208.7 1149.8,230.7 1150.0,224.5 1150.2,200.4 1150.4,195.7 1150.6,236.5 1150.8,208.0 1151.0,235.9 1151.2,242.5 1151.4,228.0 1151.6,207.2 1151.8,195.2 1152.0,252.0 1152.2,242.4 1152.4,216.3" fill="none" stroke="#1b9e77" stroke-width="1.5" stroke-linejoin="round" stroke-linecap="round"/>
<path d="M825.70,24.55 L825.70,277.65 L1152.70,277.65" fill="none" stroke="#808080" stroke-width="1.33"/>
<line x1="825.70" y1="277.65" x2="830.70" y2="277.65" stroke="#808080" stroke-width="1.33"/>
<text x="818.00" y="282.95" text-anchor="end">0</text>
<line x1="825.70" y1="235.47" x2="830.70" y2="235.47" stroke="#808080" stroke-width="1.33"/>
<text x="818.00" y="240.77" text-anchor="end">100</text>
<line x1="825.70" y1="193.28" x2="830.70" y2="193.28" stroke="#808080" stroke-width="1.33"/>
<text x="818.00" y="198.58" text-anchor="end">200</text>
<line x1="825.70" y1="151.10" x2="830.70" y2="151.10" stroke="#808080" stroke-width="1.33"/>
<text x="818.00" y="156.40" text-anchor="end">300</text>
<line x1="825.70" y1="108.92" x2="830.70" y2="108.92" stroke="#808080" stroke-width="1.33"/>
<text x="818.00" y="114.22" text-anchor="end">400</text>
<line x1="825.70" y1="66.73" x2="830.70" y2="66.73" stroke="#808080" stroke-width="1.33"/>
<text x="818.00" y="72.03" text-anchor="end">500</text>
<line x1="825.70" y1="24.55" x2="830.70" y2="24.55" stroke="#808080" stroke-width="1.33"/>
<text x="818.00" y="29.85" text-anchor="end">600</text>
<line x1="825.70" y1="277.65" x2="825.70" y2="272.45" stroke="#808080" stroke-width="1.33"/>
<line x1="843.40" y1="277.65" x2="843.40" y2="275.05" stroke="#808080" stroke-width="1.33"/>
<line x1="861.10" y1="277.65" x2="861.10" y2="275.05" stroke="#808080" stroke-width="1.33"/>
<text transform="translate(821.30,288.55) rotate(45)" x="0" y="0">2018-07-01</text>
<line x1="878.30" y1="277.65" x2="878.30" y2="272.45" stroke="#808080" stroke-width="1.33"/>
<line x1="896.00" y1="277.65" x2="896.00" y2="275.05" stroke="#808080" stroke-width="1.33"/>
<line x1="913.70" y1="277.65" x2="913.70" y2="275.05" stroke="#808080" stroke-width="1.33"/>
<text transform="translate(873.90,288.55) rotate(45)" x="0" y="0">2019-04-01</text>
<line x1="931.45" y1="277.65" x2="931.45" y2="272.45" stroke="#808080" stroke-width="1.33"/>
<line x1="949.15" y1="277.65" x2="949.15" y2="275.05" stroke="#808080" stroke-width="1.33"/>
<line x1="966.85" y1="277.65" x2="966.85" y2="275.05" stroke="#808080" stroke-width="1.33"/>
<text transform="translate(927.05,288.55) rotate(45)" x="0" y="0">2020-01-01</text>
<line x1="984.55" y1="277.65" x2="984.55" y2="272.45" stroke="#808080" stroke-width="1.33"/>
<line x1="1002.25" y1="277.65" x2="1002.25" y2="275.05" stroke="#808080" stroke-width="1.33"/>
<line x1="1019.95" y1="277.65" x2="1019.95" y2="275.05" stroke="#808080" stroke-width="1.33"/>
<text transform="translate(980.15,288.55) rotate(45)" x="0" y="0">2020-10-01</text>
<line x1="1043.75" y1="277.65" x2="1043.75" y2="272.45" stroke="#808080" stroke-width="1.33"/>
<line x1="1061.45" y1="277.65" x2="1061.45" y2="275.05" stroke="#808080" stroke-width="1.33"/>
<line x1="1079.15" y1="277.65" x2="1079.15" y2="275.05" stroke="#808080" stroke-width="1.33"/>
<text transform="translate(1039.35,288.55) rotate(45)" x="0" y="0">2021-08-01</text>
<line x1="1096.25" y1="277.65" x2="1096.25" y2="272.45" stroke="#808080" stroke-width="1.33"/>
<line x1="1113.95" y1="277.65" x2="1113.95" y2="275.05" stroke="#808080" stroke-width="1.33"/>
<line x1="1131.65" y1="277.65" x2="1131.65" y2="275.05" stroke="#808080" stroke-width="1.33"/>
<text transform="translate(1091.85,288.55) rotate(45)" x="0" y="0">2022-05-01</text>
<line x1="1150.70" y1="277.65" x2="1150.70" y2="272.45" stroke="#808080" stroke-width="1.33"/>
<text transform="translate(1146.30,288.55) rotate(45)" x="0" y="0">2023-02-01</text>
<text x="988.20" y="9.65" text-anchor="middle">GeopoliticalRiskIndex</text></g>
<g><polyline points="30.2,610.7 30.5,612.9 30.8,594.4 31.1,604.2 31.4,609.5 31.7,614.9 32.0,609.9 32.3,603.4 32.6,605.2 32.9,608.5 33.2,612.4 33.5,608.8 33.8,607.4 34.1,608.1 34.4,609.8 34.7,606.0 35.0,609.4 35.3,610.5 35.6,616.0 35.9,609.5 36.2,613.6 36.5,605.3 36.8,613.3 37.1,610.7 37.4,607.8 37.7,610.2 38.0,613.9 38.3,609.1 38.6,614.6 38.9,616.7 39.2,617.2 39.5,617.3 39.8,605.3 40.1,618.8 40.4,608.1 40.7,615.1 41.0,611.7 41.3,612.1 41.6,612.5 41.9,607.5 42.2,610.1 42.5,605.9 42.8,617.1 43.1,606.1 43.4,607.7 43.7,599.1 44.0,599.9 44.3,602.4 44.6,608.9 44.9,594.4 45.2,605.8 45.5,601.2 45.8,611.2 46.1,598.5 46.4,598.7 46.7,604.2 47.0,597.4 47.3,603.0 47.6,605.8 47.9,601.4 48.2,603.3 48.5,601.7 48.8,598.3 49.1,590.7 49.4,595.5 49.7,601.1 50.0,593.3 50.3,598.3 50.6,601.7 50.9,606.3 51.2,594.1 51.5,589.7 51.8,601.4 52.1,602.5 52.4,593.6 52.7,608.1 53.0,596.3 53.3,604.8 53.6,599.3 53.9,601.9 54.2,607.3 54.5,603.2 54.8,600.8 55.1,595.4 55.4,597.1 55.7,593.3 56.0,615.1 56.3,592.7 56.6,589.3 56.9,607.3 57.2,605.1 57.5,596.2 57.8,600.0 58.1,590.7 58.4,590.3 58.7,593.9 59.0,591.9 59.3,585.9 59.6,594.9 59.9,544.7 60.2,585.9 60.5,577.7 60.8,585.7 61.1,582.8 61.4,584.3 61.7,589.3 62.0,555.0 62.3,586.0 62.6,589.1 62.9,586.4 63.2,606.6 63.5,571.7 63.8,583.5 64.1,575.5 64.4,583.3 64.7,596.6 65.0,571.9 65.3,581.4 65.6,587.3 65.9,583.8 66.2,588.6 66.5,572.0 66.8,588.8 67.1,576.1 67.4,574.1 67.7,586.0 68.0,585.4 68.3,565.3 68.6,576.5 68.9,580.8 69.2,582.0 69.5,580.8 69.8,574.7 70.1,566.0 70.4,589.6 70.7,582.6 71.0,572.7 71.3,570.5 71.6,577.1 71.9,579.5 72.2,567.7 72.5,591.6 72.8,538.1 73.1,581.8 73.4,586.5 73.7,586.2 74.0,591.6 74.3,586.5 74.6,593.6 74.9,595.7 75.2,584.6 75.5,584.0 75.8,581.3 76.1,586.4 76.4,583.3 76.7,602.9 77.0,590.6 77.3,591.8 77.6,580.2 77.9,594.7 78.2,585.8 78.5,587.0 78.8,545.6 79.1,573.1 79.4,588.7 79.7,574.4 80.0,593.4 80.3,586.8 80.6,595.7 80.9,590.0 81.2,590.2 81.5,594.2 81.8,585.3 82.1,594.6 82.4,584.2 82.7,587.7 83.0,582.4 83.3,591.5 83.6,593.3 83.9,571.0 84.2,582.3 84.5,592.2 84.8,596.0 85.1,593.4 85.4,588.7 85.7,614.1 86.0,595.8 86.3,582.4 86.6,593.7 86.9,606.2 87.2,588.1 87.5,595.4 87.8,606.8 88.1,600.6 88.4,601.5 88.7,594.7 89.0,586.0 89.3,608.2 89.6,596.6 89.9,595.9 90.2,604.1 90.5,598.8 90.8,594.0 91.1,585.5 91.4,591.9 91.7,591.7 92.0,587.5 92.3,585.6 92.6,584.2 92.9,590.0 93.2,586.1 93.5,592.3 93.8,595.5 94.1,590.8 94.4,588.5 94.7,597.3 95.0,591.4 95.3,576.5 95.6,573.8 95.9,587.2 96.2,579.3 96.5,589.7 96.8,573.4 97.1,573.0 97.4,593.2 97.7,591.5 98.0,577.3 98.3,589.9 98.6,598.3 98.9,583.0 99.2,583.1 99.5,583.7 99.8,586.0 100.1,581.4 100.4,591.0 100.7,584.9 101.0,596.3 101.3,609.0 101.6,527.8 101.9,598.9 102.2,610.4 102.5,575.4 102.8,590.5 103.1,588.5 103.4,584.8 103.7,591.6 104.0,581.2 104.3,586.4 104.6,578.8 104.9,580.0 105.2,571.7 105.5,597.9 105.8,576.7 106.1,562.5 106.4,592.8 106.7,588.0 107.0,569.6 107.3,498.0 107.6,560.4 107.9,579.4 108.2,562.6 108.5,556.6 108.8,572.3 109.1,561.4 109.4,564.1 109.7,583.0 110.0,573.1 110.3,536.3 110.6,569.3 110.9,577.5 111.2,563.6 111.5,574.8 111.8,575.7 112.1,561.2 112.4,550.8 112.7,504.9 113.0,567.1 113.3,575.5 113.6,563.8 113.9,577.1 114.2,582.2 114.5,594.1 114.8,591.3 115.1,580.3 115.4,589.9 115.7,573.2 116.0,589.6 116.3,582.3 116.6,590.6 116.9,583.1 117.2,578.8 117.5,574.9 117.8,588.0 118.1,580.4 118.4,584.1 118.7,582.5 119.0,564.9 119.3,582.9 119.6,576.4 119.9,581.2 120.2,581.5 120.5,565.6 120.8,576.0 121.1,500.6 121.4,580.2 121.7,583.3 122.0,573.0 122.3,576.6 122.6,582.4 122.9,566.0 123.2,590.6 123.5,573.1 123.8,588.1 124.1,581.5 124.4,592.3 124.7,587.7 125.0,581.6 125.3,570.1 125.6,564.4 125.9,585.0 126.2,586.7 126.5,574.8 126.8,578.3 127.1,579.1 127.4,586.7 127.7,578.9 128.0,584.2 128.3,589.6 128.6,580.0 128.9,590.0 129.2,606.6 129.5,578.0 129.8,585.3 130.1,580.7 130.4,574.6 130.7,571.4 131.0,574.2 131.3,575.6 131.6,579.3 131.9,556.9 132.2,573.1 132.5,571.8 132.8,586.6 133.1,591.1 133.4,599.3 133.7,592.5 134.0,622.6 134.3,604.1 134.6,596.9 134.9,588.4 135.2,606.1 135.5,600.4 135.8,594.5 136.1,594.8 136.4,586.8 136.7,597.0 137.0,587.0 137.3,585.9 137.6,586.3 137.9,579.7 138.2,593.4 138.5,596.6 138.8,590.6 139.1,570.8 139.4,582.6 139.7,579.6 140.0,585.8 140.3,567.8 140.6,567.1 140.9,578.5 141.2,556.9 141.5,580.7 141.8,595.8 142.1,577.2 142.4,584.1 142.7,583.4 143.0,579.1 143.3,592.3 143.6,576.8 143.9,579.3 144.2,584.9 144.5,584.6 144.8,601.9 145.1,582.5 145.4,585.7 145.7,575.7 146.0,583.1 146.3,571.7 146.6,569.8 146.9,552.1 147.2,562.3 147.5,547.9 147.8,552.2 148.1,544.4 148.4,545.2 148.7,557.1 149.0,558.5 149.3,537.6 149.6,431.9 149.9,479.9 150.2,458.2 150.5,473.1 150.8,476.5 151.1,457.4 151.4,413.1 151.7,455.9 152.0,468.4 152.3,439.4 152.6,478.5 152.9,465.6 153.2,485.6 153.5,488.0 153.8,463.8 154.1,491.2 154.4,487.5 154.7,467.3 155.0,482.0 155.3,480.9 155.6,478.9 155.9,493.9 156.2,482.0 156.5,492.5 156.8,481.2 157.1,464.7 157.4,513.6 157.7,500.9 158.0,481.1 158.3,489.1 158.6,498.9 158.9,478.8 159.2,511.2 159.5,501.2 159.8,500.6 160.1,501.6 160.4,493.7 160.7,488.6 161.0,477.5 161.3,469.4 161.6,503.6 161.9,509.7 162.2,503.6 162.5,488.9 162.8,506.2 163.1,512.0 163.4,486.3 163.7,528.0 164.0,506.7 164.3,519.9 164.6,511.2 164.9,563.5 165.2,523.8 165.5,534.5 165.8,553.0 166.1,531.5 166.4,538.1 166.7,547.4 167.0,545.7 167.3,520.3 167.6,547.1 167.9,494.7 168.2,551.4 168.5,526.7 168.8,547.3 169.1,544.4 169.4,538.0 169.7,537.5 170.0,543.5 170.3,534.9 170.6,537.5 170.9,533.9 171.2,541.0 171.5,544.6 171.8,526.7 172.1,560.7 172.4,541.6 172.7,549.8 173.0,515.6 173.3,547.7 173.6,535.2 173.9,542.0 174.2,540.0 174.5,540.2 174.8,535.4 175.1,531.0 175.4,506.9 175.7,510.0 176.0,541.6 176.3,542.3 176.6,543.2 176.9,535.5 177.2,538.5 177.5,551.3 177.8,556.2 178.1,549.1 178.4,544.7 178.7,544.7 179.0,549.1 179.3,559.5 179.6,555.8 179.9,545.0 180.2,532.5 180.5,574.7 180.8,560.5 181.1,571.1 181.4,569.7 181.7,562.0 182.0,556.2 182.3,563.6 182.6,553.7 182.9,557.2 183.2,569.2 183.5,566.6 183.8,568.7 184.1,572.9 184.4,559.3 184.7,567.8 185.0,563.0 185.3,583.2 185.6,564.0 185.9,566.0 186.2,551.8 186.5,551.1 186.8,561.5 187.1,538.1 187.4,555.7 187.7,557.9 188.0,547.2 188.3,563.4 188.6,559.4 188.9,565.4 189.2,551.8 189.5,553.4 189.8,553.8 190.1,562.1 190.4,557.0 190.7,556.0 191.0,541.3 191.3,547.4 191.6,542.9 191.9,537.2 192.2,559.8 192.5,554.8 192.8,547.7 193.1,567.7 193.4,546.7 193.7,563.9 194.0,563.7 194.3,559.2 194.6,567.3 194.9,551.9 195.2,526.9 195.5,560.1 195.8,565.9 196.1,563.4 196.4,576.6 196.7,563.9 197.0,565.6 197.3,559.0 197.6,571.5 197.9,574.0 198.2,564.2 198.5,561.1 198.8,560.8 199.1,578.7 199.4,590.7 199.7,574.4 200.0,578.0 200.3,542.8 200.6,575.6 200.9,560.3 201.2,574.3 201.5,574.7 201.8,576.5 202.1,574.7 202.4,563.1 202.7,568.8 203.0,556.3 203.3,576.3 203.6,559.4 203.9,525.0 204.2,566.8 204.5,568.2 204.8,569.3 205.1,574.9 205.4,606.6 205.7,587.0 206.0,579.3 206.3,586.6 206.6,586.9 206.9,593.8 207.2,578.4 207.5,584.3 207.8,586.6 208.1,583.8 208.4,586.7 208.7,596.3 209.0,581.5 209.3,580.2 209.6,580.4 209.9,579.1 210.2,584.1 210.5,566.3 210.8,581.9 211.1,588.5 211.4,576.9 211.7,580.2 212.0,584.2 212.3,580.9 212.6,581.6 212.9,596.2 213.2,589.2 213.5,585.6 213.8,584.4 214.1,580.6 214.4,583.0 214.7,578.3 215.0,591.9 215.3,603.8 215.6,594.0 215.9,573.8 216.2,580.9 216.5,599.3 216.8,593.7 217.1,595.7 217.4,589.5 217.7,589.9 218.0,592.2 218.3,601.2 218.6,587.7 218.9,589.0 219.2,596.9 219.5,585.5 219.8,601.8 220.1,590.3 220.4,601.4 220.7,595.9 221.0,595.3 221.3,591.9 221.6,604.1 221.9,596.9 222.2,592.1 222.5,601.6 222.8,598.5 223.1,601.6 223.4,597.8 223.7,601.6 224.0,602.3 224.3,600.7 224.6,593.1 224.9,603.3 225.2,607.4 225.5,611.3 225.8,606.1 226.1,605.8 226.4,601.3 226.7,607.5 227.0,602.2 227.3,598.8 227.6,597.6 227.9,607.6 228.2,605.8 228.5,605.1 228.8,599.5 229.1,593.1 229.4,604.7 229.7,600.6 230.0,597.8 230.3,597.4 230.6,597.3 230.9,590.9 231.2,601.9 231.5,601.8 231.8,602.2 232.1,589.7 232.4,592.8 232.7,592.9 233.0,589.4 233.3,607.7 233.6,604.9 233.9,601.8 234.2,604.2 234.5,606.3 234.8,603.7 235.1,605.0 235.4,605.6 235.7,602.6 236.0,600.6 236.3,603.9 236.6,611.8 236.9,600.3 237.2,605.8 237.5,606.1 237.8,608.5 238.1,606.5 238.4,612.0 238.7,607.3 239.0,609.3 239.3,612.4 239.6,603.0 239.9,613.8 240.2,613.3 240.5,602.8 240.8,608.3 241.1,605.1 241.4,606.6 241.7,611.3 242.0,599.3 242.3,611.1 242.6,609.2 242.9,607.3 243.2,616.0 243.5,604.7 243.8,627.8 244.1,608.0 244.4,606.9 244.7,603.2 245.0,596.2 245.3,597.1 245.6,612.0 245.9,598.4 246.2,610.7 246.5,608.3 246.8,594.9 247.1,605.5 247.4,607.1 247.7,608.8 248.0,609.6 248.3,609.1 248.6,603.8 248.9,602.7 249.2,602.8 249.5,605.6 249.8,599.2 250.1,598.4 250.4,611.8 250.7,606.7 251.0,607.0 251.3,601.6 251.6,598.7 251.9,600.4 252.2,598.6 252.5,599.2 252.8,594.9 253.1,604.1 253.4,602.9 253.7,604.5 254.0,601.5 254.3,574.4 254.6,609.0 254.9,604.7 255.2,603.3 255.5,604.5 255.8,599.8 256.1,603.9 256.4,597.8 256.7,605.0 257.0,604.7 257.3,604.3 257.6,602.6 257.9,601.6 258.2,602.0 258.5,603.9 258.8,599.1 259.1,603.8 259.4,604.1 259.7,595.6 260.0,593.6 260.3,602.2 260.6,599.6 260.9,592.6 261.2,595.9 261.5,596.7 261.8,594.6 262.1,600.4 262.4,595.3 262.7,594.8 263.0,602.0 263.3,608.8 263.6,607.9 263.9,602.4 264.2,604.9 264.5,602.4 264.8,603.2 265.1,600.3 265.4,604.2 265.7,599.3 266.0,601.0 266.3,604.0 266.6,604.6 266.9,614.1 267.2,600.9 267.5,598.9 267.8,606.5 268.1,605.4 268.4,615.0 268.7,600.4 269.0,592.4 269.3,597.5 269.6,591.8 269.9,597.3 270.2,605.3 270.5,508.2 270.8,595.7 271.1,532.7 271.4,586.2 271.7,596.5 272.0,589.9 272.3,587.1 272.6,588.4 272.9,585.4 273.2,596.1 273.5,592.8 273.8,590.2 274.1,596.1 274.4,585.3 274.7,554.1 275.0,602.4 275.3,592.4 275.6,620.3 275.9,591.6 276.2,586.7 276.5,591.7 276.8,603.9 277.1,601.5 277.4,596.2 277.7,604.4 278.0,599.0 278.3,601.4 278.6,593.4 278.9,586.2 279.2,599.7 279.5,602.6 279.8,592.9 280.1,606.9 280.4,599.2 280.7,607.1 281.0,600.6 281.3,603.4 281.6,594.4 281.9,586.4 282.2,607.9 282.5,602.3 282.8,598.4 283.1,588.1 283.4,598.8 283.7,586.6 284.0,595.8 284.3,597.7 284.6,593.8 284.9,582.9 285.2,591.4 285.5,587.4 285.8,588.1 286.1,609.7 286.4,577.6 286.7,574.9 287.0,565.1 287.3,586.3 287.6,570.5 287.9,582.0 288.2,575.0 288.5,578.5 288.8,571.3 289.1,546.6 289.4,568.3 289.7,573.2 290.0,564.1 290.3,578.0 290.6,561.1 290.9,569.6 291.2,571.1 291.5,574.9 291.8,574.2 292.1,569.0 292.4,576.6 292.7,562.2 293.0,572.7 293.3,577.7 293.6,574.0 293.9,585.5 294.2,578.6 294.5,582.9 294.8,572.3 295.1,586.3 295.4,585.3 295.7,570.4 296.0,590.0 296.3,573.3 296.6,573.4 296.9,587.1 297.2,593.2 297.5,586.5 297.8,581.4 298.1,577.7 298.4,577.8 298.7,584.5 299.0,585.8 299.3,576.5 299.6,585.1 299.9,565.1 300.2,580.3 300.5,570.8 300.8,599.0 301.1,588.1 301.4,576.8 301.7,569.1 302.0,561.9 302.3,577.7 302.6,567.4 302.9,559.8 303.2,548.8 303.5,568.4 303.8,567.7 304.1,566.5 304.4,555.9 304.7,550.8 305.0,572.3 305.3,562.8 305.6,570.6 305.9,550.3 306.2,564.4 306.5,571.8 306.8,602.2 307.1,580.4 307.4,574.4 307.7,576.1 308.0,574.0 308.3,568.2 308.6,564.4 308.9,553.0 309.2,578.6 309.5,567.7 309.8,552.6 310.1,569.1 310.4,567.5 310.7,562.5 311.0,568.4 311.3,558.0 311.6,580.1 311.9,560.0 312.2,555.2 312.5,600.0 312.8,562.6 313.1,566.7 313.4,561.5 313.7,563.8 314.0,558.5 314.3,555.7 314.6,549.3 314.9,551.3 315.2,556.1 315.5,546.5 315.8,561.6 316.1,553.0 316.4,563.5 316.7,528.5 317.0,551.8 317.3,570.3 317.6,565.1 317.9,551.0 318.2,561.1 318.5,554.8 318.8,553.8 319.1,563.8 319.4,560.4 319.7,572.3 320.0,556.4 320.3,571.1 320.6,580.4 320.9,572.6 321.2,584.8 321.5,585.2 321.8,560.5 322.1,567.2 322.4,565.5 322.7,581.4 323.0,565.9 323.3,552.9 323.6,564.5 323.9,593.6 324.2,568.2 324.5,568.0 324.8,569.5 325.1,562.6 325.4,568.8 325.7,565.2 326.0,565.3 326.3,566.4 326.6,575.1 326.9,570.5 327.2,572.4 327.5,559.5 327.8,549.9 328.1,560.5 328.4,566.7 328.7,558.1 329.0,552.2 329.3,502.8 329.6,555.5 329.9,544.4 330.2,535.7 330.5,550.3 330.8,546.3 331.1,553.4 331.4,532.7 331.7,531.6 332.0,544.1 332.3,555.1 332.6,544.8 332.9,548.4 333.2,532.3 333.5,545.8 333.8,505.0 334.1,528.9 334.4,549.3 334.7,552.7 335.0,538.3 335.3,545.5 335.6,581.9 335.9,542.7 336.2,544.9 336.5,547.4 336.8,537.8 337.1,535.9 337.4,548.3 337.7,562.4 338.0,542.3 338.3,542.2 338.6,560.8 338.9,514.6 339.2,541.1 339.5,562.1 339.8,553.2 340.1,554.0 340.4,531.2 340.7,558.9 341.0,581.9 341.3,557.6 341.6,554.5 341.9,564.9 342.2,557.6 342.5,565.6 342.8,546.7 343.1,530.6 343.4,557.5 343.7,549.0 344.0,542.4 344.3,551.9 344.6,546.3 344.9,549.5 345.2,548.9 345.5,547.3 345.8,553.3 346.1,553.4 346.4,543.8 346.7,545.4 347.0,605.4 347.3,547.0 347.6,547.1 347.9,543.0 348.2,535.5 348.5,548.2 348.8,541.6 349.1,493.2 349.4,547.0 349.7,546.0 350.0,556.1 350.3,542.4 350.6,569.1 350.9,551.7 351.2,566.0 351.5,541.5 351.8,543.2 352.1,551.6 352.4,554.6 352.7,546.1 353.0,554.4 353.3,549.2 353.6,536.3 353.9,550.5 354.2,554.6 354.5,534.9 354.8,547.0 355.1,540.4 355.4,553.3 355.7,558.6 356.0,536.0 356.3,552.3" fill="none" stroke="#1b9e77" stroke-width="1.5" stroke-linejoin="round" stroke-linecap="round"/>
<path d="M29.75,382.55 L29.75,635.65 L356.75,635.65" fill="none" stroke="#808080" stroke-width="1.33"/>
<line x1="30.15" y1="635.95" x2="354.75" y2="635.95" stroke="#333" stroke-width="1.1" stroke-dasharray="3.4 6.5"/>
<line x1="29.75" y1="635.65" x2="34.75" y2="635.65" stroke="#808080" stroke-width="1.33"/>
<text x="22.05" y="640.95" text-anchor="end">0</text>
<line x1="29.75" y1="604.01" x2="34.75" y2="604.01" stroke="#808080" stroke-width="1.33"/>
<text x="22.05" y="609.31" text-anchor="end">100</text>
<line x1="29.75" y1="572.38" x2="34.75" y2="572.38" stroke="#808080" stroke-width="1.33"/>
<text x="22.05" y="577.67" text-anchor="end">200</text>
<line x1="29.75" y1="540.74" x2="34.75" y2="540.74" stroke="#808080" stroke-width="1.33"/>
<text x="22.05" y="546.04" text-anchor="end">300</text>
<line x1="29.75" y1="509.10" x2="34.75" y2="509.10" stroke="#808080" stroke-width="1.33"/>
<text x="22.05" y="514.40" text-anchor="end">400</text>
<line x1="29.75" y1="477.46" x2="34.75" y2="477.46" stroke="#808080" stroke-width="1.33"/>
<text x="22.05" y="482.76" text-anchor="end">500</text>
<line x1="29.75" y1="445.82" x2="34.75" y2="445.82" stroke="#808080" stroke-width="1.33"/>
<text x="22.05" y="451.12" text-anchor="end">600</text>
<line x1="29.75" y1="414.19" x2="34.75" y2="414.19" stroke="#808080" stroke-width="1.33"/>
<text x="22.05" y="419.49" text-anchor="end">700</text>
<line x1="29.75" y1="382.55" x2="34.75" y2="382.55" stroke="#808080" stroke-width="1.33"/>
<text x="22.05" y="387.85" text-anchor="end">800</text>
<line x1="29.75" y1="635.65" x2="29.75" y2="630.45" stroke="#808080" stroke-width="1.33"/>
<line x1="47.45" y1="635.65" x2="47.45" y2="633.05" stroke="#808080" stroke-width="1.33"/>
<line x1="65.15" y1="635.65" x2="65.15" y2="633.05" stroke="#808080" stroke-width="1.33"/>
<text transform="translate(25.35,646.55) rotate(45)" x="0" y="0">2018-07-01</text>
<line x1="82.35" y1="635.65" x2="82.35" y2="630.45" stroke="#808080" stroke-width="1.33"/>
<line x1="100.05" y1="635.65" x2="100.05" y2="633.05" stroke="#808080" stroke-width="1.33"/>
<line x1="117.75" y1="635.65" x2="117.75" y2="633.05" stroke="#808080" stroke-width="1.33"/>
<text transform="translate(77.95,646.55) rotate(45)" x="0" y="0">2019-04-01</text>
<line x1="135.50" y1="635.65" x2="135.50" y2="630.45" stroke="#808080" stroke-width="1.33"/>
<line x1="153.20" y1="635.65" x2="153.20" y2="633.05" stroke="#808080" stroke-width="1.33"/>
<line x1="170.90" y1="635.65" x2="170.90" y2="633.05" stroke="#808080" stroke-width="1.33"/>
<text transform="translate(131.10,646.55) rotate(45)" x="0" y="0">2020-01-01</text>
<line x1="188.60" y1="635.65" x2="188.60" y2="630.45" stroke="#808080" stroke-width="1.33"/>
<line x1="206.30" y1="635.65" x2="206.30" y2="633.05" stroke="#808080" stroke-width="1.33"/>
<line x1="224.00" y1="635.65" x2="224.00" y2="633.05" stroke="#808080" stroke-width="1.33"/>
<text transform="translate(184.20,646.55) rotate(45)" x="0" y="0">2020-10-01</text>
<line x1="247.80" y1="635.65" x2="247.80" y2="630.45" stroke="#808080" stroke-width="1.33"/>
<line x1="265.50" y1="635.65" x2="265.50" y2="633.05" stroke="#808080" stroke-width="1.33"/>
<line x1="283.20" y1="635.65" x2="283.20" y2="633.05" stroke="#808080" stroke-width="1.33"/>
<text transform="translate(243.40,646.55) rotate(45)" x="0" y="0">2021-08-01</text>
<line x1="300.30" y1="635.65" x2="300.30" y2="630.45" stroke="#808080" stroke-width="1.33"/>
<line x1="318.00" y1="635.65" x2="318.00" y2="633.05" stroke="#808080" stroke-width="1.33"/>
<line x1="335.70" y1="635.65" x2="335.70" y2="633.05" stroke="#808080" stroke-width="1.33"/>
<text transform="translate(295.90,646.55) rotate(45)" x="0" y="0">2022-05-01</text>
<line x1="354.75" y1="635.65" x2="354.75" y2="630.45" stroke="#808080" stroke-width="1.33"/>
<text transform="translate(350.35,646.55) rotate(45)" x="0" y="0">2023-02-01</text>
<text x="192.25" y="367.65" text-anchor="middle">TwitterEconomicUncertainty</text></g>
<g><line x1="420.90" y1="551.43" x2="752.10" y2="551.43" stroke="#000" stroke-width="1.9" stroke-dasharray="3.4 6.5"/>
<polyline points="419.5,578.4 420.5,585.5 422.0,588.5 424.1,590.1 427.1,592.1 428.1,582.5 429.6,587.5 431.1,592.1 433.2,585.5 434.7,591.6 436.2,596.1 438.2,597.1 439.7,575.9 441.2,585.5 442.7,568.8 445.3,583.5 447.8,567.8 450.3,574.9 451.8,560.8 452.8,567.3 454.9,545.1 456.4,545.1 457.9,558.2 459.4,562.3 460.4,570.4 462.4,578.4 464.0,576.9 465.0,581.5 467.5,590.6 469.0,586.0 471.0,595.1 473.1,585.0 474.6,593.6 477.1,601.2 479.1,597.1 480.6,595.6 482.1,579.9 483.7,587.0 485.2,580.5 486.5,572.9 487.7,582.0 490.2,583.0 491.7,583.5 493.3,592.6 494.8,593.6 495.8,587.5 497.3,593.1 498.8,565.3 499.8,570.4 501.0,559.7 502.3,571.4 503.9,566.3 505.1,570.4 506.9,588.5 508.4,579.4 509.9,575.4 510.7,567.8 512.4,572.4 513.5,584.5 515.5,594.6 517.5,598.1 518.0,598.4 520.5,598.4 521.5,601.5 523.1,595.9 524.6,599.4 526.1,605.5 527.6,609.5 529.1,602.0 530.1,604.5 531.6,610.6 533.2,599.4 534.7,592.9 535.7,599.4 537.2,605.5 538.7,602.5 538.6,595.0 539.3,573.5 539.9,551.3 540.1,541.2 540.9,551.3 541.4,525.0 541.9,500.4 541.6,479.2 542.6,470.1 543.2,460.0 543.2,435.4 543.8,407.1 544.8,410.2 545.7,440.5 546.4,448.5 546.2,435.4 547.7,450.6 548.4,465.0 548.2,470.1 549.2,485.3 550.7,472.1 551.4,486.3 552.2,502.4 553.3,498.4 554.1,516.6 555.1,509.5 556.3,524.6 556.8,530.0 557.3,536.1 558.3,543.2 559.5,564.4 560.8,541.7 562.3,554.3 563.9,548.7 564.9,563.4 566.9,565.4 568.9,576.0 570.4,571.0 572.9,580.1 574.7,577.0 576.0,579.0 577.5,570.5 579.5,578.0 581.3,567.4 583.4,572.0 585.1,582.1 587.1,576.5 588.4,560.4 589.4,565.4 590.4,584.6 592.1,590.7 593.7,591.7 594.7,595.0 594.8,596.4 596.8,600.5 598.8,597.4 599.8,601.5 601.3,599.4 602.8,606.5 604.4,604.5 605.1,608.0 606.7,594.9 607.9,607.5 609.7,612.6 611.4,607.0 612.4,596.4 613.5,599.9 614.5,598.4 615.8,606.5 617.5,598.4 619.0,602.5 620.5,606.5 622.0,607.5 623.1,604.5 624.6,608.0 626.1,608.0 627.1,596.4 628.6,598.9 630.1,605.0 631.6,606.5 633.2,610.1 634.7,604.5 635.7,609.5 637.7,603.0 638.1,601.6 639.1,605.6 640.6,592.5 642.1,597.5 644.2,598.5 645.7,602.1 647.0,595.0 648.2,600.6 649.7,602.6 652.2,599.5 653.3,592.0 654.5,598.5 656.1,592.0 657.3,595.5 658.8,600.1 660.8,595.0 662.3,597.5 663.4,593.5 665.4,587.4 666.4,569.2 667.9,563.7 669.2,578.3 670.9,571.8 672.4,582.4 675.0,589.4 676.5,583.4 678.3,569.7 680.0,579.3 681.0,579.8 682.3,563.7 683.1,568.2 684.1,558.1 685.1,550.1 685.6,545.0 685.1,549.5 685.9,525.3 686.6,515.7 687.6,524.3 688.2,521.3 689.2,540.5 690.2,542.5 691.7,554.1 693.2,547.5 694.4,546.5 695.2,552.1 696.4,531.4 697.7,527.3 698.3,533.4 699.1,519.2 700.1,520.3 700.8,527.3 701.8,533.4 702.8,544.5 704.1,546.5 705.1,539.4 705.8,522.3 706.6,513.2 707.3,520.3 708.4,525.3 709.2,515.2 710.2,509.6 711.2,518.2 712.2,513.2 712.9,524.3 714.4,526.3 715.9,529.8 716.9,534.4 717.9,544.0 719.0,537.4 720.0,532.4 721.5,529.8 722.5,525.3 724.0,538.4 724.5,527.3 725.5,522.3 726.0,512.2 727.0,504.6 728.4,519.2 729.4,506.1 730.6,513.2 732.1,511.7 733.1,520.3 734.6,524.3 735.8,537.4 737.1,541.5 738.7,542.5 739.9,544.5 740.9,516.2 741.7,545.5 742.3,552.6 743.2,546.5 744.9,547.5 746.2,547.0 747.8,558.1 750.3,562.4 752.1,567.4 752.4,571.8 753.9,568.5" fill="none" stroke="#1b9e77" stroke-width="1.75" stroke-linejoin="round" stroke-linecap="round"/>
<path d="M420.00,382.55 L420.00,635.65 L754.10,635.65" fill="none" stroke="#808080" stroke-width="1.33"/>
<line x1="420.00" y1="635.65" x2="425.00" y2="635.65" stroke="#808080" stroke-width="1.33"/>
<text x="412.30" y="640.95" text-anchor="end">-6</text>
<line x1="420.00" y1="607.53" x2="425.00" y2="607.53" stroke="#808080" stroke-width="1.33"/>
<text x="412.30" y="612.83" text-anchor="end">-4</text>
<line x1="420.00" y1="579.41" x2="425.00" y2="579.41" stroke="#808080" stroke-width="1.33"/>
<text x="412.30" y="584.71" text-anchor="end">-2</text>
<line x1="420.00" y1="551.28" x2="425.00" y2="551.28" stroke="#808080" stroke-width="1.33"/>
<text x="412.30" y="556.58" text-anchor="end">0</text>
<line x1="420.00" y1="523.16" x2="425.00" y2="523.16" stroke="#808080" stroke-width="1.33"/>
<text x="412.30" y="528.46" text-anchor="end">2</text>
<line x1="420.00" y1="495.04" x2="425.00" y2="495.04" stroke="#808080" stroke-width="1.33"/>
<text x="412.30" y="500.34" text-anchor="end">4</text>
<line x1="420.00" y1="466.92" x2="425.00" y2="466.92" stroke="#808080" stroke-width="1.33"/>
<text x="412.30" y="472.22" text-anchor="end">6</text>
<line x1="420.00" y1="438.79" x2="425.00" y2="438.79" stroke="#808080" stroke-width="1.33"/>
<text x="412.30" y="444.09" text-anchor="end">8</text>
<line x1="420.00" y1="410.67" x2="425.00" y2="410.67" stroke="#808080" stroke-width="1.33"/>
<text x="412.30" y="415.97" text-anchor="end">10</text>
<line x1="420.00" y1="382.55" x2="425.00" y2="382.55" stroke="#808080" stroke-width="1.33"/>
<text x="412.30" y="387.85" text-anchor="end">12</text>
<line x1="420.00" y1="635.65" x2="420.00" y2="630.45" stroke="#808080" stroke-width="1.33"/>
<line x1="438.09" y1="635.65" x2="438.09" y2="633.05" stroke="#808080" stroke-width="1.33"/>
<line x1="456.17" y1="635.65" x2="456.17" y2="633.05" stroke="#808080" stroke-width="1.33"/>
<text transform="translate(415.60,646.55) rotate(45)" x="0" y="0">2018-07-01</text>
<line x1="473.75" y1="635.65" x2="473.75" y2="630.45" stroke="#808080" stroke-width="1.33"/>
<line x1="491.84" y1="635.65" x2="491.84" y2="633.05" stroke="#808080" stroke-width="1.33"/>
<line x1="509.92" y1="635.65" x2="509.92" y2="633.05" stroke="#808080" stroke-width="1.33"/>
<text transform="translate(469.35,646.55) rotate(45)" x="0" y="0">2019-04-01</text>
<line x1="528.06" y1="635.65" x2="528.06" y2="630.45" stroke="#808080" stroke-width="1.33"/>
<line x1="546.15" y1="635.65" x2="546.15" y2="633.05" stroke="#808080" stroke-width="1.33"/>
<line x1="564.23" y1="635.65" x2="564.23" y2="633.05" stroke="#808080" stroke-width="1.33"/>
<text transform="translate(523.66,646.55) rotate(45)" x="0" y="0">2020-01-01</text>
<line x1="582.32" y1="635.65" x2="582.32" y2="630.45" stroke="#808080" stroke-width="1.33"/>
<line x1="600.41" y1="635.65" x2="600.41" y2="633.05" stroke="#808080" stroke-width="1.33"/>
<line x1="618.49" y1="635.65" x2="618.49" y2="633.05" stroke="#808080" stroke-width="1.33"/>
<text transform="translate(577.92,646.55) rotate(45)" x="0" y="0">2020-10-01</text>
<line x1="642.81" y1="635.65" x2="642.81" y2="630.45" stroke="#808080" stroke-width="1.33"/>
<line x1="660.90" y1="635.65" x2="660.90" y2="633.05" stroke="#808080" stroke-width="1.33"/>
<line x1="678.99" y1="635.65" x2="678.99" y2="633.05" stroke="#808080" stroke-width="1.33"/>
<text transform="translate(638.41,646.55) rotate(45)" x="0" y="0">2021-08-01</text>
<line x1="696.46" y1="635.65" x2="696.46" y2="630.45" stroke="#808080" stroke-width="1.33"/>
<line x1="714.55" y1="635.65" x2="714.55" y2="633.05" stroke="#808080" stroke-width="1.33"/>
<line x1="732.63" y1="635.65" x2="732.63" y2="633.05" stroke="#808080" stroke-width="1.33"/>
<text transform="translate(692.06,646.55) rotate(45)" x="0" y="0">2022-05-01</text>
<line x1="752.10" y1="635.65" x2="752.10" y2="630.45" stroke="#808080" stroke-width="1.33"/>
<text transform="translate(747.70,646.55) rotate(45)" x="0" y="0">2023-02-01</text>
<text x="586.05" y="367.65" text-anchor="middle">FinancialStressIndex</text></g>
</svg></body></html>
